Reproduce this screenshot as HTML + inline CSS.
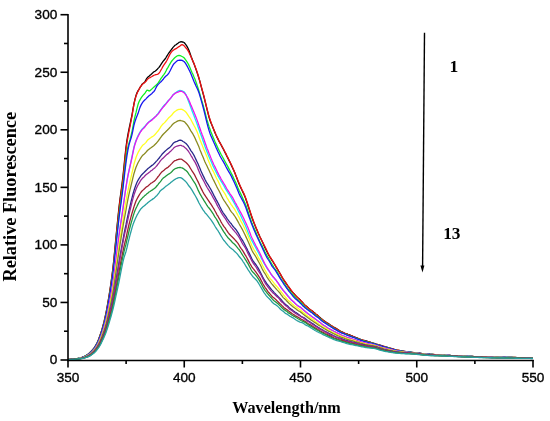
<!DOCTYPE html>
<html><head><meta charset="utf-8"><style>
html,body{margin:0;padding:0;background:#fff;width:550px;height:421px;overflow:hidden}
svg{display:block;will-change:transform}
</style></head><body>
<svg width="550" height="421" viewBox="0 0 550 421">
<rect width="550" height="421" fill="#fff"/>
<g fill="none" stroke-width="1.3" stroke-linejoin="round">
<path d="M68 359.40 L69 359.39 L70 359.34 L71 359.28 L72 359.20 L73 359.11 L74 359.00 L75 358.89 L76 358.77 L77 358.60 L78 358.40 L79 358.14 L80 357.88 L81 357.59 L82 357.27 L83 356.91 L84 356.49 L85 356.03 L86 355.50 L87 354.90 L88 354.19 L89 353.40 L90 352.52 L91 351.54 L92 350.48 L93 349.35 L94 348.05 L95 346.58 L96 344.90 L97 343.02 L98 340.88 L99 338.31 L100 335.53 L101 332.58 L102 329.40 L103 325.72 L104 321.95 L105 317.50 L106 312.85 L107 307.50 L108 301.90 L109 296.05 L110 289.68 L111 282.85 L112 275.48 L113 267.57 L114 258.32 L115 247.54 L116 237.11 L117 227.02 L118 217.07 L119 207.36 L120 199.05 L121 191.84 L122 184.09 L123 176.04 L124 166.25 L125 156.24 L126 147.43 L127 139.90 L128 134.05 L129 129.03 L130 124.50 L131 119.59 L132 114.81 L133 109.06 L134 103.53 L135 99.18 L136 95.58 L137 92.79 L138 90.83 L139 89.26 L140 87.48 L141 86.01 L142 84.37 L143 83.57 L144 82.65 L145 81.59 L146 79.69 L147 78.19 L148 76.96 L149 76.22 L150 75.31 L151 74.49 L152 73.58 L153 72.59 L154 71.74 L155 71.23 L156 70.42 L157 69.60 L158 68.44 L159 67.33 L160 65.99 L161 64.46 L162 62.87 L163 61.41 L164 60.24 L165 59.02 L166 57.52 L167 55.83 L168 54.27 L169 52.75 L170 51.49 L171 50.05 L172 48.76 L173 47.39 L174 46.34 L175 45.30 L176 44.68 L177 43.92 L178 43.30 L179 42.36 L180 42.01 L181 41.71 L182 41.99 L183 41.95 L184 42.48 L185 43.53 L186 44.90 L187 46.37 L188 48.22 L189 50.55 L190 53.22 L191 56.19 L192 58.85 L193 61.45 L194 63.82 L195 66.63 L196 69.35 L197 72.39 L198 75.26 L199 78.56 L200 81.88 L201 85.79 L202 89.56 L203 93.30 L204 96.99 L205 101.03 L206 105.12 L207 109.15 L208 113.06 L209 116.99 L210 120.27 L211 123.02 L212 125.32 L213 127.71 L214 130.18 L215 132.64 L216 134.97 L217 137.12 L218 139.15 L219 141.16 L220 142.91 L221 144.74 L222 146.61 L223 148.57 L224 150.49 L225 152.36 L226 154.34 L227 156.41 L228 158.39 L229 160.36 L230 162.35 L231 164.50 L232 166.79 L233 168.69 L234 171.03 L235 173.24 L236 175.96 L237 178.49 L238 181.15 L239 183.70 L240 185.99 L241 188.26 L242 190.27 L243 192.36 L244 194.47 L245 196.77 L246 199.55 L247 202.42 L248 205.74 L249 208.70 L250 211.76 L251 214.69 L252 217.75 L253 220.46 L254 223.05 L255 225.47 L256 228.10 L257 230.35 L258 232.74 L259 234.76 L260 236.93 L261 238.92 L262 241.01 L263 243.24 L264 245.50 L265 247.68 L266 249.73 L267 251.75 L268 253.67 L269 255.49 L270 257.10 L271 258.62 L272 260.31 L273 261.74 L274 263.52 L275 265.00 L276 266.87 L277 268.44 L278 270.07 L279 271.78 L280 273.53 L281 275.39 L282 277.10 L283 278.80 L284 280.40 L285 281.87 L286 283.39 L287 284.67 L288 286.16 L289 287.43 L290 289.08 L291 290.51 L292 291.68 L293 292.78 L294 293.78 L295 294.96 L296 296.03 L297 296.98 L298 297.88 L299 298.76 L300 299.78 L301 300.99 L302 301.93 L303 303.04 L304 304.13 L305 305.14 L306 305.98 L307 306.81 L308 307.72 L309 308.78 L310 309.58 L311 310.30 L312 310.79 L313 311.50 L314 312.57 L315 313.38 L316 314.18 L317 314.84 L318 315.72 L319 316.79 L320 317.58 L321 318.51 L322 319.17 L323 320.05 L324 320.65 L325 321.51 L326 322.16 L327 322.94 L328 323.41 L329 324.02 L330 324.69 L331 325.43 L332 326.12 L333 326.74 L334 327.29 L335 327.83 L336 328.40 L337 329.02 L338 329.65 L339 330.28 L340 330.93 L341 331.52 L342 331.96 L343 332.38 L344 332.89 L345 333.30 L346 333.63 L347 333.91 L348 334.37 L349 334.68 L350 335.10 L351 335.50 L352 335.94 L353 336.39 L354 336.76 L355 337.17 L356 337.53 L357 337.87 L358 338.29 L359 338.77 L360 339.19 L361 339.65 L362 339.90 L363 340.28 L364 340.49 L365 340.69 L366 340.92 L367 341.21 L368 341.55 L369 341.83 L370 342.14 L371 342.46 L372 342.75 L373 343.02 L374 343.37 L375 343.71 L376 344.06 L377 344.37 L378 344.69 L379 344.92 L380 345.13 L381 345.42 L382 345.77 L383 346.10 L384 346.40 L385 346.65 L386 346.95 L387 347.22 L388 347.52 L389 347.78 L390 348.06 L391 348.36 L392 348.66 L393 348.96 L394 349.27 L395 349.56 L396 349.89 L397 350.13 L398 350.34 L399 350.50 L400 350.68 L401 350.85 L402 351.03 L403 351.17 L404 351.29 L405 351.43 L406 351.58 L407 351.79 L408 351.90 L409 352.03 L410 352.15 L411 352.27 L412 352.42 L413 352.54 L414 352.67 L415 352.79 L416 352.88 L417 353.01 L418 353.11 L419 353.23 L420 353.33 L421 353.48 L422 353.56 L423 353.64 L424 353.72 L425 353.81 L426 353.92 L427 354.00 L428 354.10 L429 354.17 L430 354.25 L431 354.29 L432 354.36 L433 354.45 L434 354.55 L435 354.62 L436 354.66 L437 354.74 L438 354.81 L439 354.88 L440 354.94 L441 355.00 L442 355.08 L443 355.12 L444 355.19 L445 355.24 L446 355.30 L447 355.33 L448 355.38 L449 355.44 L450 355.50 L451 355.56 L452 355.61 L453 355.68 L454 355.72 L455 355.77 L456 355.79 L457 355.83 L458 355.89 L459 355.95 L460 356.00 L461 356.03 L462 356.07 L463 356.11 L464 356.16 L465 356.21 L466 356.25 L467 356.27 L468 356.31 L469 356.36 L470 356.41 L471 356.44 L472 356.48 L473 356.52 L474 356.56 L475 356.59 L476 356.62 L477 356.65 L478 356.67 L479 356.69 L480 356.72 L481 356.74 L482 356.79 L483 356.79 L484 356.82 L485 356.83 L486 356.87 L487 356.89 L488 356.91 L489 356.93 L490 356.95 L491 356.97 L492 356.99 L493 357.02 L494 357.04 L495 357.06 L496 357.07 L497 357.10 L498 357.11 L499 357.13 L500 357.14 L501 357.16 L502 357.19 L503 357.21 L504 357.25 L505 357.27 L506 357.29 L507 357.30 L508 357.33 L509 357.34 L510 357.37 L511 357.39 L512 357.42 L513 357.45 L514 357.46 L515 357.49 L516 357.52 L517 357.54 L518 357.57 L519 357.59 L520 357.61 L521 357.62 L522 357.65 L523 357.68 L524 357.71 L525 357.73 L526 357.75 L527 357.77 L528 357.79 L529 357.82 L530 357.84 L531 357.86 L532 357.88 L533 357.90" stroke="#000000"/>
<path d="M68 359.41 L69 359.39 L70 359.36 L71 359.29 L72 359.21 L73 359.11 L74 359.01 L75 358.91 L76 358.78 L77 358.60 L78 358.39 L79 358.16 L80 357.90 L81 357.62 L82 357.32 L83 356.95 L84 356.52 L85 356.04 L86 355.54 L87 354.94 L88 354.22 L89 353.42 L90 352.57 L91 351.64 L92 350.60 L93 349.47 L94 348.20 L95 346.77 L96 345.11 L97 343.27 L98 341.16 L99 338.55 L100 335.71 L101 332.72 L102 329.74 L103 326.27 L104 322.53 L105 318.19 L106 313.66 L107 308.44 L108 302.68 L109 296.63 L110 290.40 L111 283.77 L112 276.43 L113 268.45 L114 259.44 L115 248.77 L116 238.51 L117 228.43 L118 218.84 L119 209.18 L120 200.81 L121 193.49 L122 186.12 L123 178.24 L124 168.78 L125 158.62 L126 149.87 L127 142.37 L128 136.52 L129 131.39 L130 126.28 L131 121.21 L132 116.11 L133 109.97 L134 103.94 L135 99.70 L136 96.11 L137 93.43 L138 91.33 L139 89.47 L140 87.68 L141 86.01 L142 84.82 L143 83.68 L144 83.12 L145 82.21 L146 81.32 L147 79.86 L148 78.85 L149 78.03 L150 77.57 L151 77.04 L152 76.52 L153 75.83 L154 75.25 L155 74.96 L156 74.62 L157 74.38 L158 74.04 L159 73.17 L160 71.78 L161 69.96 L162 68.24 L163 66.41 L164 64.76 L165 63.34 L166 61.99 L167 60.29 L168 58.24 L169 56.10 L170 54.14 L171 52.55 L172 51.28 L173 50.47 L174 49.79 L175 49.12 L176 48.66 L177 47.92 L178 47.24 L179 46.59 L180 45.93 L181 45.10 L182 44.67 L183 44.96 L184 45.66 L185 46.81 L186 47.98 L187 49.06 L188 50.69 L189 52.45 L190 54.73 L191 56.82 L192 59.24 L193 61.35 L194 63.57 L195 66.19 L196 68.75 L197 71.61 L198 74.69 L199 78.21 L200 81.85 L201 85.47 L202 89.05 L203 92.54 L204 96.42 L205 100.63 L206 104.75 L207 108.98 L208 112.83 L209 116.51 L210 119.47 L211 122.33 L212 125.08 L213 127.53 L214 129.99 L215 132.34 L216 134.75 L217 136.85 L218 139.03 L219 141.12 L220 142.91 L221 144.55 L222 146.29 L223 148.25 L224 149.94 L225 151.99 L226 153.88 L227 156.07 L228 157.91 L229 160.02 L230 161.97 L231 163.95 L232 166.02 L233 168.38 L234 170.75 L235 173.26 L236 175.64 L237 178.15 L238 180.67 L239 183.02 L240 185.53 L241 187.55 L242 189.81 L243 191.71 L244 193.87 L245 196.26 L246 198.95 L247 201.88 L248 204.79 L249 207.99 L250 211.04 L251 214.11 L252 217.03 L253 219.81 L254 222.43 L255 224.93 L256 227.41 L257 229.81 L258 232.27 L259 234.63 L260 236.97 L261 238.98 L262 240.97 L263 242.82 L264 244.87 L265 246.76 L266 248.85 L267 250.92 L268 253.20 L269 255.21 L270 256.85 L271 258.45 L272 259.91 L273 261.66 L274 263.15 L275 264.87 L276 266.63 L277 268.37 L278 270.23 L279 271.77 L280 273.45 L281 275.14 L282 277.04 L283 278.67 L284 280.15 L285 281.40 L286 282.96 L287 284.51 L288 286.07 L289 287.40 L290 288.50 L291 289.86 L292 291.27 L293 292.70 L294 293.86 L295 294.77 L296 295.94 L297 296.92 L298 298.03 L299 298.92 L300 299.72 L301 300.77 L302 301.74 L303 303.05 L304 304.24 L305 305.33 L306 306.09 L307 306.86 L308 307.71 L309 308.74 L310 309.45 L311 310.05 L312 310.86 L313 311.78 L314 312.71 L315 313.28 L316 314.22 L317 314.81 L318 315.81 L319 316.74 L320 317.88 L321 318.79 L322 319.35 L323 320.25 L324 320.88 L325 321.72 L326 322.33 L327 323.04 L328 323.75 L329 324.29 L330 324.95 L331 325.49 L332 326.15 L333 326.80 L334 327.44 L335 328.03 L336 328.56 L337 329.09 L338 329.72 L339 330.43 L340 331.05 L341 331.65 L342 332.10 L343 332.52 L344 332.96 L345 333.31 L346 333.74 L347 334.15 L348 334.53 L349 334.93 L350 335.17 L351 335.59 L352 335.91 L353 336.36 L354 336.75 L355 337.23 L356 337.73 L357 338.19 L358 338.63 L359 338.96 L360 339.32 L361 339.62 L362 339.87 L363 340.19 L364 340.58 L365 340.94 L366 341.20 L367 341.49 L368 341.75 L369 342.04 L370 342.24 L371 342.52 L372 342.83 L373 343.23 L374 343.55 L375 343.82 L376 344.03 L377 344.33 L378 344.61 L379 344.93 L380 345.26 L381 345.61 L382 345.92 L383 346.15 L384 346.38 L385 346.69 L386 347.04 L387 347.34 L388 347.61 L389 347.88 L390 348.23 L391 348.53 L392 348.81 L393 349.08 L394 349.36 L395 349.63 L396 349.84 L397 350.01 L398 350.22 L399 350.43 L400 350.67 L401 350.87 L402 351.07 L403 351.22 L404 351.36 L405 351.52 L406 351.66 L407 351.81 L408 351.93 L409 352.08 L410 352.21 L411 352.31 L412 352.44 L413 352.52 L414 352.64 L415 352.73 L416 352.87 L417 352.98 L418 353.11 L419 353.20 L420 353.33 L421 353.46 L422 353.58 L423 353.69 L424 353.77 L425 353.89 L426 353.96 L427 354.02 L428 354.10 L429 354.18 L430 354.26 L431 354.31 L432 354.37 L433 354.46 L434 354.52 L435 354.63 L436 354.70 L437 354.76 L438 354.80 L439 354.85 L440 354.90 L441 354.98 L442 355.04 L443 355.11 L444 355.16 L445 355.22 L446 355.30 L447 355.37 L448 355.42 L449 355.47 L450 355.50 L451 355.55 L452 355.59 L453 355.65 L454 355.69 L455 355.74 L456 355.78 L457 355.85 L458 355.89 L459 355.93 L460 355.97 L461 356.03 L462 356.08 L463 356.12 L464 356.16 L465 356.22 L466 356.26 L467 356.29 L468 356.31 L469 356.34 L470 356.40 L471 356.45 L472 356.49 L473 356.52 L474 356.54 L475 356.57 L476 356.60 L477 356.65 L478 356.66 L479 356.69 L480 356.71 L481 356.75 L482 356.77 L483 356.79 L484 356.81 L485 356.84 L486 356.87 L487 356.89 L488 356.90 L489 356.92 L490 356.95 L491 356.97 L492 356.99 L493 357.01 L494 357.04 L495 357.07 L496 357.09 L497 357.11 L498 357.14 L499 357.16 L500 357.18 L501 357.20 L502 357.23 L503 357.24 L504 357.27 L505 357.27 L506 357.29 L507 357.31 L508 357.34 L509 357.37 L510 357.39 L511 357.42 L512 357.44 L513 357.46 L514 357.48 L515 357.51 L516 357.53 L517 357.56 L518 357.58 L519 357.61 L520 357.63 L521 357.64 L522 357.66 L523 357.68 L524 357.69 L525 357.71 L526 357.73 L527 357.78 L528 357.80 L529 357.82 L530 357.83 L531 357.86 L532 357.88 L533 357.91" stroke="#f01010"/>
<path d="M68 359.41 L69 359.40 L70 359.36 L71 359.30 L72 359.23 L73 359.14 L74 359.04 L75 358.94 L76 358.81 L77 358.65 L78 358.44 L79 358.22 L80 357.97 L81 357.71 L82 357.41 L83 357.06 L84 356.65 L85 356.19 L86 355.69 L87 355.13 L88 354.45 L89 353.68 L90 352.83 L91 351.89 L92 350.83 L93 349.72 L94 348.48 L95 347.10 L96 345.43 L97 343.66 L98 341.66 L99 339.25 L100 336.50 L101 333.50 L102 330.55 L103 327.25 L104 323.59 L105 319.45 L106 314.90 L107 310.02 L108 304.44 L109 298.63 L110 292.59 L111 286.22 L112 279.28 L113 271.55 L114 262.92 L115 252.82 L116 243.12 L117 233.43 L118 224.25 L119 215.24 L120 207.25 L121 200.14 L122 192.54 L123 184.79 L124 175.71 L125 166.52 L126 158.43 L127 151.01 L128 146.56 L129 143.09 L130 139.71 L131 135.60 L132 131.56 L133 126.34 L134 120.58 L135 116.34 L136 112.67 L137 108.35 L138 104.55 L139 101.81 L140 99.89 L141 98.14 L142 96.70 L143 95.35 L144 94.28 L145 93.07 L146 91.51 L147 90.12 L148 90.30 L149 91.04 L150 90.72 L151 89.80 L152 88.86 L153 87.88 L154 86.92 L155 86.12 L156 85.23 L157 84.32 L158 83.08 L159 81.57 L160 80.04 L161 78.44 L162 77.07 L163 75.65 L164 74.32 L165 72.85 L166 70.94 L167 68.87 L168 67.31 L169 65.53 L170 63.85 L171 62.15 L172 60.75 L173 59.61 L174 58.54 L175 57.55 L176 56.72 L177 56.04 L178 55.55 L179 55.35 L180 55.66 L181 55.99 L182 56.48 L183 56.98 L184 57.72 L185 59.00 L186 60.47 L187 61.95 L188 63.49 L189 65.41 L190 67.77 L191 70.13 L192 72.41 L193 74.54 L194 77.01 L195 79.31 L196 82.05 L197 84.93 L198 88.03 L199 91.25 L200 94.49 L201 98.08 L202 101.44 L203 104.77 L204 108.32 L205 112.23 L206 116.26 L207 119.98 L208 123.27 L209 126.38 L210 129.21 L211 132.08 L212 134.49 L213 136.98 L214 139.33 L215 141.68 L216 143.86 L217 146.09 L218 148.29 L219 150.39 L220 152.30 L221 154.22 L222 156.00 L223 157.71 L224 159.66 L225 161.47 L226 163.30 L227 165.09 L228 166.91 L229 168.86 L230 170.75 L231 172.73 L232 174.64 L233 176.65 L234 178.87 L235 180.96 L236 183.07 L237 185.49 L238 188.05 L239 190.29 L240 192.27 L241 194.36 L242 196.53 L243 198.78 L244 200.92 L245 203.33 L246 205.62 L247 208.38 L248 211.42 L249 214.46 L250 217.55 L251 220.40 L252 223.35 L253 225.79 L254 227.98 L255 230.15 L256 232.49 L257 234.93 L258 237.35 L259 239.56 L260 241.72 L261 243.70 L262 245.63 L263 247.69 L264 249.86 L265 251.99 L266 253.77 L267 255.56 L268 257.25 L269 259.21 L270 260.88 L271 262.67 L272 264.26 L273 265.89 L274 267.52 L275 268.85 L276 270.11 L277 271.62 L278 273.49 L279 275.54 L280 277.18 L281 278.80 L282 280.32 L283 281.73 L284 283.13 L285 284.64 L286 286.15 L287 287.79 L288 288.93 L289 290.24 L290 291.42 L291 292.73 L292 293.84 L293 294.72 L294 295.80 L295 297.10 L296 298.26 L297 299.33 L298 300.04 L299 301.00 L300 301.90 L301 302.82 L302 303.66 L303 304.65 L304 305.84 L305 306.84 L306 307.80 L307 308.77 L308 309.54 L309 310.17 L310 310.84 L311 311.71 L312 312.56 L313 313.23 L314 313.90 L315 314.71 L316 315.43 L317 316.33 L318 317.02 L319 317.83 L320 318.63 L321 319.52 L322 320.45 L323 321.20 L324 321.92 L325 322.60 L326 323.26 L327 323.86 L328 324.43 L329 325.05 L330 325.75 L331 326.43 L332 327.12 L333 327.75 L334 328.42 L335 329.01 L336 329.54 L337 330.12 L338 330.72 L339 331.30 L340 331.79 L341 332.33 L342 332.85 L343 333.33 L344 333.71 L345 334.12 L346 334.43 L347 334.81 L348 335.13 L349 335.57 L350 335.85 L351 336.26 L352 336.66 L353 337.14 L354 337.49 L355 337.84 L356 338.18 L357 338.54 L358 338.91 L359 339.33 L360 339.77 L361 340.09 L362 340.45 L363 340.65 L364 340.94 L365 341.18 L366 341.56 L367 341.84 L368 342.04 L369 342.30 L370 342.60 L371 342.91 L372 343.14 L373 343.40 L374 343.72 L375 344.07 L376 344.34 L377 344.71 L378 344.99 L379 345.32 L380 345.58 L381 345.88 L382 346.25 L383 346.56 L384 346.83 L385 347.03 L386 347.28 L387 347.57 L388 347.88 L389 348.17 L390 348.51 L391 348.77 L392 349.07 L393 349.33 L394 349.55 L395 349.79 L396 350.02 L397 350.29 L398 350.51 L399 350.70 L400 350.86 L401 351.02 L402 351.14 L403 351.27 L404 351.44 L405 351.58 L406 351.73 L407 351.86 L408 352.02 L409 352.14 L410 352.22 L411 352.32 L412 352.43 L413 352.56 L414 352.68 L415 352.81 L416 352.93 L417 353.05 L418 353.19 L419 353.31 L420 353.39 L421 353.48 L422 353.56 L423 353.66 L424 353.76 L425 353.87 L426 353.97 L427 354.06 L428 354.15 L429 354.22 L430 354.29 L431 354.38 L432 354.47 L433 354.52 L434 354.57 L435 354.63 L436 354.73 L437 354.81 L438 354.88 L439 354.93 L440 354.98 L441 355.03 L442 355.08 L443 355.13 L444 355.18 L445 355.23 L446 355.28 L447 355.35 L448 355.40 L449 355.47 L450 355.51 L451 355.56 L452 355.61 L453 355.68 L454 355.72 L455 355.76 L456 355.82 L457 355.87 L458 355.92 L459 355.98 L460 356.03 L461 356.07 L462 356.09 L463 356.13 L464 356.18 L465 356.23 L466 356.27 L467 356.29 L468 356.34 L469 356.39 L470 356.43 L471 356.47 L472 356.50 L473 356.54 L474 356.57 L475 356.61 L476 356.64 L477 356.67 L478 356.69 L479 356.72 L480 356.75 L481 356.77 L482 356.81 L483 356.84 L484 356.86 L485 356.88 L486 356.90 L487 356.92 L488 356.94 L489 356.97 L490 356.99 L491 357.01 L492 357.01 L493 357.05 L494 357.07 L495 357.10 L496 357.11 L497 357.14 L498 357.16 L499 357.19 L500 357.21 L501 357.23 L502 357.25 L503 357.27 L504 357.29 L505 357.32 L506 357.34 L507 357.36 L508 357.38 L509 357.41 L510 357.43 L511 357.45 L512 357.47 L513 357.49 L514 357.53 L515 357.55 L516 357.58 L517 357.60 L518 357.61 L519 357.63 L520 357.65 L521 357.68 L522 357.70 L523 357.73 L524 357.75 L525 357.77 L526 357.80 L527 357.82 L528 357.84 L529 357.86 L530 357.88 L531 357.90 L532 357.91 L533 357.93" stroke="#10f020"/>
<path d="M68 359.42 L69 359.41 L70 359.37 L71 359.31 L72 359.24 L73 359.15 L74 359.04 L75 358.94 L76 358.81 L77 358.65 L78 358.46 L79 358.24 L80 358.01 L81 357.75 L82 357.46 L83 357.10 L84 356.70 L85 356.27 L86 355.78 L87 355.22 L88 354.54 L89 353.79 L90 352.97 L91 352.06 L92 351.03 L93 349.88 L94 348.61 L95 347.23 L96 345.68 L97 343.94 L98 341.89 L99 339.43 L100 336.74 L101 333.93 L102 330.86 L103 327.58 L104 323.96 L105 320.18 L106 315.60 L107 310.51 L108 305.03 L109 299.36 L110 293.58 L111 287.13 L112 280.37 L113 272.73 L114 264.25 L115 254.63 L116 245.38 L117 236.25 L118 227.05 L119 218.18 L120 210.22 L121 203.30 L122 195.74 L123 188.17 L124 179.22 L125 170.38 L126 162.44 L127 155.31 L128 149.63 L129 144.87 L130 141.40 L131 138.33 L132 134.61 L133 129.96 L134 124.98 L135 121.43 L136 118.46 L137 116.02 L138 113.62 L139 110.38 L140 107.37 L141 105.13 L142 103.37 L143 101.84 L144 100.79 L145 99.79 L146 98.85 L147 97.66 L148 96.70 L149 95.76 L150 95.13 L151 94.27 L152 93.44 L153 92.28 L154 91.43 L155 89.83 L156 87.80 L157 85.86 L158 84.52 L159 83.62 L160 82.58 L161 81.80 L162 80.63 L163 79.53 L164 78.11 L165 76.99 L166 75.96 L167 75.16 L168 74.23 L169 72.81 L170 70.99 L171 69.05 L172 67.03 L173 65.18 L174 63.73 L175 62.85 L176 61.85 L177 60.94 L178 60.30 L179 60.24 L180 60.11 L181 60.25 L182 60.40 L183 60.93 L184 61.47 L185 62.69 L186 64.11 L187 65.82 L188 67.69 L189 69.72 L190 71.74 L191 74.09 L192 76.54 L193 78.99 L194 81.47 L195 83.62 L196 85.95 L197 87.94 L198 90.18 L199 92.85 L200 96.11 L201 99.55 L202 103.17 L203 106.73 L204 110.56 L205 114.65 L206 118.87 L207 123.16 L208 126.88 L209 130.34 L210 133.42 L211 135.96 L212 138.26 L213 140.52 L214 142.82 L215 144.98 L216 147.36 L217 149.40 L218 151.66 L219 153.77 L220 155.96 L221 157.78 L222 159.52 L223 161.07 L224 162.89 L225 164.69 L226 166.76 L227 168.58 L228 170.39 L229 172.06 L230 173.80 L231 175.57 L232 177.60 L233 179.68 L234 181.83 L235 183.96 L236 186.16 L237 188.54 L238 190.91 L239 193.41 L240 195.62 L241 197.52 L242 199.34 L243 201.17 L244 203.24 L245 205.46 L246 208.05 L247 210.94 L248 213.78 L249 216.70 L250 219.38 L251 222.30 L252 224.86 L253 227.33 L254 229.72 L255 232.08 L256 234.40 L257 236.53 L258 238.60 L259 240.79 L260 242.94 L261 245.19 L262 247.23 L263 249.45 L264 251.55 L265 253.78 L266 255.79 L267 257.63 L268 259.25 L269 260.73 L270 262.41 L271 264.25 L272 266.14 L273 267.38 L274 268.62 L275 269.86 L276 271.47 L277 273.07 L278 274.69 L279 276.40 L280 278.05 L281 279.56 L282 281.13 L283 282.58 L284 284.31 L285 285.68 L286 287.16 L287 288.50 L288 289.97 L289 291.34 L290 292.43 L291 293.67 L292 294.83 L293 296.23 L294 297.33 L295 298.40 L296 299.14 L297 300.00 L298 300.92 L299 301.88 L300 302.92 L301 303.77 L302 304.88 L303 305.94 L304 306.74 L305 307.66 L306 308.38 L307 309.39 L308 310.03 L309 310.86 L310 311.47 L311 312.17 L312 312.77 L313 313.64 L314 314.53 L315 315.42 L316 316.19 L317 316.85 L318 317.46 L319 318.30 L320 319.20 L321 320.19 L322 321.06 L323 321.79 L324 322.47 L325 322.90 L326 323.64 L327 324.32 L328 325.09 L329 325.71 L330 326.26 L331 326.86 L332 327.54 L333 328.22 L334 328.87 L335 329.35 L336 329.90 L337 330.44 L338 331.12 L339 331.66 L340 332.25 L341 332.64 L342 333.10 L343 333.37 L344 333.70 L345 334.19 L346 334.77 L347 335.22 L348 335.52 L349 335.85 L350 336.20 L351 336.65 L352 336.94 L353 337.32 L354 337.48 L355 337.97 L356 338.39 L357 338.97 L358 339.26 L359 339.65 L360 339.95 L361 340.34 L362 340.71 L363 341.09 L364 341.41 L365 341.59 L366 341.81 L367 342.08 L368 342.39 L369 342.65 L370 342.88 L371 343.10 L372 343.36 L373 343.67 L374 343.94 L375 344.22 L376 344.49 L377 344.78 L378 345.08 L379 345.31 L380 345.64 L381 345.91 L382 346.24 L383 346.53 L384 346.85 L385 347.15 L386 347.38 L387 347.71 L388 348.00 L389 348.31 L390 348.55 L391 348.84 L392 349.12 L393 349.40 L394 349.64 L395 349.92 L396 350.15 L397 350.39 L398 350.59 L399 350.78 L400 350.96 L401 351.11 L402 351.25 L403 351.37 L404 351.51 L405 351.66 L406 351.79 L407 351.95 L408 352.07 L409 352.19 L410 352.26 L411 352.39 L412 352.49 L413 352.60 L414 352.67 L415 352.79 L416 352.93 L417 353.04 L418 353.14 L419 353.25 L420 353.40 L421 353.50 L422 353.59 L423 353.70 L424 353.81 L425 353.91 L426 353.98 L427 354.06 L428 354.15 L429 354.24 L430 354.31 L431 354.39 L432 354.47 L433 354.55 L434 354.63 L435 354.68 L436 354.75 L437 354.79 L438 354.88 L439 354.92 L440 354.97 L441 355.00 L442 355.06 L443 355.12 L444 355.17 L445 355.23 L446 355.29 L447 355.36 L448 355.41 L449 355.47 L450 355.51 L451 355.55 L452 355.58 L453 355.65 L454 355.70 L455 355.74 L456 355.80 L457 355.88 L458 355.95 L459 355.97 L460 356.01 L461 356.05 L462 356.11 L463 356.14 L464 356.18 L465 356.21 L466 356.25 L467 356.32 L468 356.37 L469 356.41 L470 356.42 L471 356.46 L472 356.50 L473 356.55 L474 356.58 L475 356.62 L476 356.65 L477 356.67 L478 356.69 L479 356.71 L480 356.74 L481 356.78 L482 356.81 L483 356.84 L484 356.87 L485 356.89 L486 356.92 L487 356.96 L488 356.99 L489 357.00 L490 357.02 L491 357.04 L492 357.07 L493 357.08 L494 357.09 L495 357.11 L496 357.13 L497 357.17 L498 357.19 L499 357.21 L500 357.22 L501 357.25 L502 357.27 L503 357.29 L504 357.30 L505 357.33 L506 357.35 L507 357.39 L508 357.42 L509 357.44 L510 357.46 L511 357.48 L512 357.51 L513 357.54 L514 357.55 L515 357.56 L516 357.58 L517 357.60 L518 357.63 L519 357.66 L520 357.67 L521 357.70 L522 357.71 L523 357.74 L524 357.77 L525 357.79 L526 357.80 L527 357.82 L528 357.85 L529 357.87 L530 357.89 L531 357.91 L532 357.93 L533 357.95" stroke="#1818f0"/>
<path d="M68 359.46 L69 359.45 L70 359.42 L71 359.37 L72 359.30 L73 359.21 L74 359.12 L75 359.02 L76 358.91 L77 358.77 L78 358.60 L79 358.41 L80 358.20 L81 357.99 L82 357.72 L83 357.42 L84 357.04 L85 356.65 L86 356.19 L87 355.70 L88 355.13 L89 354.52 L90 353.75 L91 352.89 L92 351.92 L93 350.90 L94 349.78 L95 348.44 L96 346.98 L97 345.34 L98 343.55 L99 341.33 L100 338.93 L101 336.30 L102 333.55 L103 330.51 L104 327.38 L105 323.75 L106 319.81 L107 315.45 L108 310.74 L109 305.78 L110 300.49 L111 295.09 L112 289.10 L113 282.68 L114 275.45 L115 267.30 L116 259.12 L117 250.91 L118 243.03 L119 235.15 L120 227.85 L121 221.13 L122 214.49 L123 207.97 L124 200.51 L125 193.48 L126 186.82 L127 180.65 L128 175.16 L129 170.50 L130 165.96 L131 161.30 L132 156.58 L133 151.69 L134 146.95 L135 143.45 L136 140.43 L137 138.02 L138 135.88 L139 133.79 L140 132.07 L141 130.54 L142 129.14 L143 128.11 L144 127.08 L145 126.23 L146 124.90 L147 123.79 L148 122.71 L149 121.83 L150 120.88 L151 120.05 L152 119.39 L153 118.68 L154 117.84 L155 116.88 L156 116.01 L157 114.78 L158 113.63 L159 112.04 L160 110.91 L161 109.41 L162 108.18 L163 106.69 L164 105.53 L165 104.42 L166 103.48 L167 102.14 L168 100.82 L169 99.87 L170 98.95 L171 97.84 L172 96.31 L173 94.80 L174 93.92 L175 93.02 L176 92.44 L177 91.72 L178 91.06 L179 90.72 L180 90.50 L181 90.60 L182 90.91 L183 91.30 L184 91.77 L185 92.94 L186 94.77 L187 97.25 L188 99.90 L189 102.50 L190 105.16 L191 107.97 L192 110.68 L193 113.31 L194 115.78 L195 118.55 L196 121.12 L197 123.83 L198 126.80 L199 129.57 L200 132.44 L201 135.04 L202 137.78 L203 140.71 L204 143.45 L205 146.42 L206 149.18 L207 151.79 L208 154.35 L209 156.75 L210 159.09 L211 161.28 L212 163.51 L213 165.95 L214 167.91 L215 170.01 L216 171.86 L217 174.01 L218 175.83 L219 177.69 L220 179.46 L221 181.11 L222 182.63 L223 184.29 L224 186.04 L225 187.90 L226 189.55 L227 191.13 L228 192.76 L229 194.20 L230 195.77 L231 197.33 L232 199.06 L233 200.83 L234 202.63 L235 204.43 L236 206.35 L237 208.32 L238 210.43 L239 212.35 L240 214.30 L241 216.29 L242 218.50 L243 220.45 L244 222.50 L245 224.62 L246 227.11 L247 229.61 L248 232.15 L249 234.67 L250 237.02 L251 239.04 L252 240.92 L253 242.77 L254 244.67 L255 246.45 L256 248.28 L257 250.16 L258 251.93 L259 253.74 L260 255.57 L261 257.65 L262 259.55 L263 261.51 L264 263.30 L265 265.00 L266 266.72 L267 268.17 L268 269.79 L269 271.01 L270 272.58 L271 274.00 L272 275.28 L273 276.51 L274 277.64 L275 278.80 L276 280.18 L277 281.52 L278 282.96 L279 284.22 L280 285.64 L281 287.14 L282 288.58 L283 290.07 L284 291.09 L285 292.17 L286 293.23 L287 294.47 L288 295.82 L289 296.88 L290 298.19 L291 299.28 L292 300.49 L293 301.50 L294 302.52 L295 303.34 L296 304.22 L297 304.96 L298 305.64 L299 306.20 L300 306.82 L301 307.73 L302 308.44 L303 309.42 L304 310.14 L305 311.29 L306 312.13 L307 312.95 L308 313.67 L309 314.22 L310 315.06 L311 315.83 L312 316.60 L313 317.38 L314 318.05 L315 318.94 L316 319.49 L317 320.28 L318 321.06 L319 321.92 L320 322.55 L321 323.30 L322 324.11 L323 324.90 L324 325.59 L325 326.12 L326 326.75 L327 327.34 L328 328.00 L329 328.77 L330 329.34 L331 329.86 L332 330.28 L333 330.72 L334 331.30 L335 331.81 L336 332.35 L337 332.83 L338 333.25 L339 333.78 L340 334.25 L341 334.85 L342 335.30 L343 335.74 L344 335.98 L345 336.43 L346 336.87 L347 337.31 L348 337.58 L349 337.87 L350 338.16 L351 338.55 L352 338.87 L353 339.15 L354 339.36 L355 339.58 L356 340.00 L357 340.40 L358 340.91 L359 341.29 L360 341.55 L361 341.80 L362 342.04 L363 342.37 L364 342.60 L365 342.85 L366 343.09 L367 343.39 L368 343.60 L369 343.80 L370 343.95 L371 344.16 L372 344.36 L373 344.59 L374 344.86 L375 345.16 L376 345.49 L377 345.81 L378 346.12 L379 346.37 L380 346.67 L381 347.00 L382 347.31 L383 347.56 L384 347.79 L385 348.05 L386 348.33 L387 348.60 L388 348.89 L389 349.13 L390 349.41 L391 349.64 L392 349.89 L393 350.16 L394 350.39 L395 350.64 L396 350.82 L397 351.02 L398 351.19 L399 351.34 L400 351.44 L401 351.57 L402 351.71 L403 351.86 L404 351.95 L405 352.05 L406 352.15 L407 352.22 L408 352.31 L409 352.41 L410 352.51 L411 352.59 L412 352.70 L413 352.81 L414 352.92 L415 352.99 L416 353.06 L417 353.16 L418 353.28 L419 353.45 L420 353.56 L421 353.67 L422 353.80 L423 353.94 L424 354.07 L425 354.16 L426 354.24 L427 354.33 L428 354.40 L429 354.48 L430 354.54 L431 354.61 L432 354.64 L433 354.71 L434 354.78 L435 354.85 L436 354.91 L437 354.92 L438 354.98 L439 355.01 L440 355.07 L441 355.13 L442 355.20 L443 355.26 L444 355.32 L445 355.35 L446 355.41 L447 355.45 L448 355.52 L449 355.55 L450 355.60 L451 355.65 L452 355.71 L453 355.77 L454 355.80 L455 355.85 L456 355.90 L457 355.96 L458 356.01 L459 356.05 L460 356.10 L461 356.15 L462 356.20 L463 356.25 L464 356.30 L465 356.32 L466 356.36 L467 356.39 L468 356.45 L469 356.50 L470 356.55 L471 356.59 L472 356.64 L473 356.66 L474 356.70 L475 356.73 L476 356.78 L477 356.80 L478 356.83 L479 356.87 L480 356.90 L481 356.93 L482 356.96 L483 356.99 L484 357.00 L485 357.03 L486 357.04 L487 357.08 L488 357.10 L489 357.11 L490 357.14 L491 357.16 L492 357.19 L493 357.21 L494 357.25 L495 357.28 L496 357.29 L497 357.31 L498 357.32 L499 357.34 L500 357.37 L501 357.39 L502 357.42 L503 357.43 L504 357.46 L505 357.48 L506 357.50 L507 357.52 L508 357.55 L509 357.57 L510 357.58 L511 357.60 L512 357.63 L513 357.66 L514 357.69 L515 357.71 L516 357.73 L517 357.74 L518 357.76 L519 357.78 L520 357.81 L521 357.84 L522 357.85 L523 357.87 L524 357.89 L525 357.91 L526 357.93 L527 357.95 L528 357.97 L529 357.99 L530 358.00 L531 358.02 L532 358.04 L533 358.06" stroke="#10f0f0"/>
<path d="M68 359.46 L69 359.45 L70 359.42 L71 359.36 L72 359.29 L73 359.21 L74 359.12 L75 359.02 L76 358.91 L77 358.76 L78 358.60 L79 358.42 L80 358.22 L81 357.99 L82 357.73 L83 357.42 L84 357.08 L85 356.69 L86 356.25 L87 355.72 L88 355.14 L89 354.47 L90 353.71 L91 352.89 L92 351.95 L93 350.91 L94 349.76 L95 348.55 L96 347.07 L97 345.43 L98 343.51 L99 341.46 L100 339.04 L101 336.47 L102 333.65 L103 330.68 L104 327.41 L105 323.93 L106 319.95 L107 315.79 L108 310.80 L109 305.66 L110 300.29 L111 294.87 L112 289.22 L113 283.03 L114 275.74 L115 267.42 L116 259.09 L117 251.22 L118 243.45 L119 235.53 L120 228.42 L121 221.88 L122 215.70 L123 208.71 L124 201.25 L125 193.75 L126 187.24 L127 180.83 L128 175.34 L129 170.77 L130 166.30 L131 162.05 L132 157.49 L133 152.52 L134 147.78 L135 144.19 L136 141.27 L137 138.79 L138 136.56 L139 134.69 L140 132.75 L141 131.26 L142 129.90 L143 128.89 L144 127.96 L145 126.73 L146 125.42 L147 124.10 L148 122.98 L149 122.03 L150 121.42 L151 120.77 L152 119.98 L153 118.81 L154 118.10 L155 117.05 L156 116.19 L157 115.06 L158 114.10 L159 112.84 L160 111.24 L161 109.90 L162 108.54 L163 107.40 L164 106.21 L165 105.01 L166 103.91 L167 102.66 L168 101.40 L169 100.09 L170 98.94 L171 97.70 L172 96.34 L173 95.09 L174 94.22 L175 93.49 L176 92.88 L177 92.47 L178 92.07 L179 91.70 L180 91.20 L181 91.23 L182 91.42 L183 92.07 L184 92.63 L185 93.85 L186 94.97 L187 96.71 L188 98.37 L189 100.51 L190 102.75 L191 105.36 L192 107.58 L193 109.90 L194 112.25 L195 114.86 L196 117.29 L197 119.89 L198 122.62 L199 125.59 L200 128.47 L201 131.44 L202 134.20 L203 136.77 L204 139.49 L205 142.49 L206 145.34 L207 148.14 L208 150.56 L209 153.18 L210 155.61 L211 158.12 L212 160.57 L213 162.83 L214 165.01 L215 166.89 L216 168.98 L217 170.98 L218 173.16 L219 175.05 L220 176.83 L221 178.79 L222 180.47 L223 182.13 L224 183.73 L225 185.45 L226 187.25 L227 189.01 L228 190.63 L229 192.18 L230 193.76 L231 195.14 L232 196.71 L233 198.21 L234 200.21 L235 202.22 L236 203.93 L237 205.79 L238 207.53 L239 209.51 L240 211.31 L241 213.06 L242 214.99 L243 217.03 L244 219.05 L245 221.16 L246 223.21 L247 225.54 L248 227.67 L249 230.37 L250 233.09 L251 235.81 L252 238.01 L253 239.96 L254 242.01 L255 243.93 L256 245.97 L257 247.85 L258 249.69 L259 251.51 L260 253.57 L261 255.59 L262 257.89 L263 260.06 L264 262.13 L265 264.04 L266 265.74 L267 267.64 L268 269.16 L269 270.75 L270 272.28 L271 274.01 L272 275.48 L273 276.83 L274 277.80 L275 279.01 L276 280.15 L277 281.57 L278 282.94 L279 284.54 L280 286.07 L281 287.52 L282 288.83 L283 290.24 L284 291.41 L285 292.67 L286 293.88 L287 295.12 L288 296.33 L289 297.38 L290 298.67 L291 299.74 L292 300.49 L293 301.26 L294 302.11 L295 303.26 L296 304.15 L297 305.13 L298 305.95 L299 306.58 L300 307.11 L301 307.60 L302 308.71 L303 309.59 L304 310.62 L305 311.14 L306 311.94 L307 312.82 L308 313.72 L309 314.49 L310 315.14 L311 316.08 L312 316.79 L313 317.44 L314 317.96 L315 318.70 L316 319.54 L317 320.30 L318 320.99 L319 321.73 L320 322.53 L321 323.24 L322 324.12 L323 324.90 L324 325.54 L325 326.04 L326 326.64 L327 327.49 L328 328.24 L329 328.65 L330 329.07 L331 329.49 L332 330.18 L333 330.72 L334 331.29 L335 331.80 L336 332.41 L337 332.83 L338 333.33 L339 333.79 L340 334.32 L341 334.84 L342 335.25 L343 335.76 L344 336.06 L345 336.54 L346 336.91 L347 337.26 L348 337.55 L349 337.83 L350 338.16 L351 338.50 L352 338.83 L353 339.15 L354 339.44 L355 339.78 L356 340.15 L357 340.46 L358 340.82 L359 341.12 L360 341.48 L361 341.76 L362 342.11 L363 342.30 L364 342.52 L365 342.74 L366 343.05 L367 343.32 L368 343.58 L369 343.81 L370 344.02 L371 344.25 L372 344.50 L373 344.66 L374 344.93 L375 345.14 L376 345.50 L377 345.69 L378 346.01 L379 346.27 L380 346.66 L381 347.02 L382 347.36 L383 347.62 L384 347.89 L385 348.12 L386 348.37 L387 348.61 L388 348.91 L389 349.18 L390 349.43 L391 349.67 L392 349.93 L393 350.22 L394 350.43 L395 350.64 L396 350.86 L397 351.05 L398 351.20 L399 351.33 L400 351.46 L401 351.60 L402 351.70 L403 351.81 L404 351.93 L405 352.04 L406 352.13 L407 352.21 L408 352.31 L409 352.42 L410 352.53 L411 352.65 L412 352.72 L413 352.80 L414 352.85 L415 352.97 L416 353.09 L417 353.22 L418 353.32 L419 353.42 L420 353.53 L421 353.67 L422 353.82 L423 353.94 L424 354.06 L425 354.14 L426 354.23 L427 354.31 L428 354.39 L429 354.49 L430 354.54 L431 354.62 L432 354.67 L433 354.74 L434 354.78 L435 354.83 L436 354.86 L437 354.89 L438 354.94 L439 355.02 L440 355.06 L441 355.11 L442 355.17 L443 355.22 L444 355.28 L445 355.32 L446 355.40 L447 355.43 L448 355.48 L449 355.52 L450 355.59 L451 355.64 L452 355.70 L453 355.74 L454 355.80 L455 355.83 L456 355.89 L457 355.95 L458 356.01 L459 356.07 L460 356.12 L461 356.17 L462 356.21 L463 356.27 L464 356.31 L465 356.35 L466 356.38 L467 356.43 L468 356.48 L469 356.53 L470 356.57 L471 356.60 L472 356.63 L473 356.67 L474 356.69 L475 356.74 L476 356.76 L477 356.81 L478 356.83 L479 356.86 L480 356.89 L481 356.91 L482 356.95 L483 356.99 L484 357.03 L485 357.04 L486 357.06 L487 357.08 L488 357.12 L489 357.14 L490 357.15 L491 357.16 L492 357.19 L493 357.21 L494 357.24 L495 357.26 L496 357.31 L497 357.33 L498 357.35 L499 357.36 L500 357.38 L501 357.41 L502 357.43 L503 357.45 L504 357.45 L505 357.47 L506 357.50 L507 357.54 L508 357.55 L509 357.58 L510 357.59 L511 357.61 L512 357.64 L513 357.67 L514 357.69 L515 357.71 L516 357.73 L517 357.75 L518 357.76 L519 357.79 L520 357.82 L521 357.84 L522 357.86 L523 357.88 L524 357.89 L525 357.90 L526 357.93 L527 357.95 L528 357.97 L529 357.99 L530 358.00 L531 358.03 L532 358.04 L533 358.06" stroke="#f010f0"/>
<path d="M68 359.49 L69 359.48 L70 359.45 L71 359.40 L72 359.33 L73 359.26 L74 359.17 L75 359.08 L76 358.97 L77 358.84 L78 358.68 L79 358.51 L80 358.32 L81 358.14 L82 357.89 L83 357.61 L84 357.27 L85 356.90 L86 356.48 L87 356.02 L88 355.49 L89 354.87 L90 354.16 L91 353.36 L92 352.46 L93 351.49 L94 350.43 L95 349.25 L96 347.84 L97 346.32 L98 344.53 L99 342.51 L100 340.24 L101 337.81 L102 335.25 L103 332.44 L104 329.46 L105 326.10 L106 322.47 L107 318.51 L108 314.09 L109 309.24 L110 304.41 L111 299.30 L112 293.95 L113 287.98 L114 281.55 L115 274.36 L116 267.19 L117 259.98 L118 252.65 L119 245.41 L120 238.60 L121 232.43 L122 226.36 L123 220.17 L124 213.47 L125 206.81 L126 201.15 L127 195.47 L128 190.65 L129 186.00 L130 181.49 L131 177.31 L132 172.94 L133 168.55 L134 164.12 L135 160.70 L136 157.55 L137 154.95 L138 152.65 L139 150.84 L140 149.14 L141 147.58 L142 146.11 L143 144.94 L144 144.29 L145 143.36 L146 142.35 L147 140.87 L148 139.72 L149 138.93 L150 138.21 L151 137.55 L152 136.84 L153 136.26 L154 135.48 L155 134.46 L156 133.30 L157 132.10 L158 131.05 L159 129.56 L160 128.17 L161 126.40 L162 125.13 L163 124.00 L164 123.12 L165 122.18 L166 121.00 L167 119.79 L168 118.61 L169 117.53 L170 116.67 L171 115.79 L172 114.74 L173 113.47 L174 112.24 L175 111.43 L176 110.82 L177 110.13 L178 109.72 L179 109.38 L180 109.39 L181 109.19 L182 109.36 L183 109.91 L184 110.45 L185 111.26 L186 112.14 L187 113.56 L188 115.03 L189 116.56 L190 118.01 L191 119.78 L192 121.70 L193 123.58 L194 125.47 L195 127.26 L196 129.41 L197 131.58 L198 134.13 L199 137.01 L200 139.80 L201 142.29 L202 144.63 L203 147.14 L204 149.69 L205 152.04 L206 154.51 L207 156.86 L208 159.53 L209 161.90 L210 164.38 L211 166.70 L212 168.92 L213 170.89 L214 172.82 L215 174.99 L216 177.24 L217 179.24 L218 180.92 L219 182.96 L220 185.34 L221 187.58 L222 189.35 L223 190.94 L224 192.28 L225 193.87 L226 195.72 L227 197.83 L228 199.39 L229 201.02 L230 202.53 L231 204.33 L232 205.63 L233 207.03 L234 208.32 L235 209.96 L236 211.77 L237 213.59 L238 215.48 L239 217.26 L240 219.40 L241 221.40 L242 223.10 L243 224.94 L244 226.92 L245 229.18 L246 231.27 L247 233.42 L248 235.76 L249 238.26 L250 240.94 L251 243.56 L252 246.05 L253 247.95 L254 249.79 L255 251.32 L256 252.97 L257 254.82 L258 256.82 L259 258.70 L260 260.38 L261 262.12 L262 264.19 L263 266.40 L264 268.28 L265 270.08 L266 271.76 L267 273.60 L268 275.07 L269 276.78 L270 278.28 L271 279.58 L272 280.57 L273 281.82 L274 283.20 L275 284.43 L276 285.49 L277 286.59 L278 287.78 L279 289.00 L280 290.43 L281 291.52 L282 292.85 L283 294.13 L284 295.51 L285 296.60 L286 297.76 L287 299.02 L288 300.16 L289 300.90 L290 301.75 L291 302.68 L292 303.64 L293 304.48 L294 305.43 L295 306.23 L296 306.91 L297 307.48 L298 308.27 L299 309.07 L300 309.67 L301 310.56 L302 311.46 L303 312.42 L304 312.99 L305 313.78 L306 314.74 L307 315.50 L308 316.26 L309 316.82 L310 317.63 L311 318.21 L312 318.82 L313 319.51 L314 320.31 L315 321.22 L316 321.86 L317 322.68 L318 323.33 L319 324.19 L320 324.76 L321 325.55 L322 326.10 L323 326.78 L324 327.38 L325 327.90 L326 328.44 L327 329.11 L328 329.71 L329 330.32 L330 330.79 L331 331.51 L332 332.03 L333 332.51 L334 332.87 L335 333.36 L336 333.89 L337 334.43 L338 334.91 L339 335.33 L340 335.76 L341 336.20 L342 336.56 L343 336.90 L344 337.31 L345 337.64 L346 338.09 L347 338.51 L348 338.96 L349 339.33 L350 339.50 L351 339.74 L352 339.90 L353 340.21 L354 340.42 L355 340.71 L356 341.08 L357 341.48 L358 341.88 L359 342.20 L360 342.49 L361 342.69 L362 342.92 L363 343.17 L364 343.50 L365 343.73 L366 343.93 L367 344.10 L368 344.37 L369 344.60 L370 344.79 L371 344.90 L372 345.09 L373 345.25 L374 345.49 L375 345.71 L376 346.02 L377 346.33 L378 346.66 L379 347.08 L380 347.40 L381 347.72 L382 347.93 L383 348.18 L384 348.47 L385 348.78 L386 349.04 L387 349.26 L388 349.49 L389 349.75 L390 349.95 L391 350.18 L392 350.40 L393 350.68 L394 350.85 L395 351.07 L396 351.26 L397 351.44 L398 351.58 L399 351.69 L400 351.82 L401 351.90 L402 352.01 L403 352.11 L404 352.24 L405 352.33 L406 352.40 L407 352.49 L408 352.58 L409 352.69 L410 352.75 L411 352.83 L412 352.90 L413 352.97 L414 353.06 L415 353.16 L416 353.28 L417 353.40 L418 353.49 L419 353.61 L420 353.71 L421 353.85 L422 353.97 L423 354.10 L424 354.21 L425 354.31 L426 354.41 L427 354.51 L428 354.59 L429 354.66 L430 354.70 L431 354.74 L432 354.81 L433 354.88 L434 354.92 L435 354.94 L436 354.98 L437 355.03 L438 355.09 L439 355.15 L440 355.21 L441 355.25 L442 355.31 L443 355.35 L444 355.41 L445 355.44 L446 355.49 L447 355.54 L448 355.61 L449 355.66 L450 355.70 L451 355.75 L452 355.80 L453 355.86 L454 355.91 L455 355.94 L456 355.99 L457 356.04 L458 356.10 L459 356.16 L460 356.21 L461 356.24 L462 356.28 L463 356.35 L464 356.40 L465 356.45 L466 356.48 L467 356.53 L468 356.57 L469 356.61 L470 356.66 L471 356.70 L472 356.74 L473 356.77 L474 356.81 L475 356.84 L476 356.88 L477 356.90 L478 356.92 L479 356.94 L480 356.97 L481 357.00 L482 357.04 L483 357.08 L484 357.10 L485 357.13 L486 357.15 L487 357.18 L488 357.20 L489 357.22 L490 357.25 L491 357.28 L492 357.30 L493 357.32 L494 357.34 L495 357.36 L496 357.38 L497 357.42 L498 357.44 L499 357.45 L500 357.47 L501 357.49 L502 357.52 L503 357.54 L504 357.56 L505 357.59 L506 357.61 L507 357.62 L508 357.65 L509 357.66 L510 357.69 L511 357.72 L512 357.75 L513 357.76 L514 357.78 L515 357.80 L516 357.82 L517 357.85 L518 357.86 L519 357.88 L520 357.90 L521 357.92 L522 357.93 L523 357.95 L524 357.97 L525 358.00 L526 358.02 L527 358.03 L528 358.05 L529 358.06 L530 358.08 L531 358.09 L532 358.13 L533 358.15" stroke="#ffff20"/>
<path d="M68 359.51 L69 359.50 L70 359.47 L71 359.42 L72 359.36 L73 359.29 L74 359.20 L75 359.11 L76 359.00 L77 358.88 L78 358.75 L79 358.59 L80 358.42 L81 358.22 L82 358.00 L83 357.72 L84 357.40 L85 357.03 L86 356.64 L87 356.20 L88 355.71 L89 355.13 L90 354.45 L91 353.70 L92 352.84 L93 351.89 L94 350.84 L95 349.70 L96 348.39 L97 346.88 L98 345.19 L99 343.30 L100 341.20 L101 338.88 L102 336.32 L103 333.51 L104 330.61 L105 327.36 L106 323.89 L107 320.05 L108 315.75 L109 311.34 L110 306.79 L111 302.27 L112 297.26 L113 291.79 L114 285.70 L115 278.96 L116 272.06 L117 265.03 L118 258.13 L119 251.37 L120 244.81 L121 238.57 L122 232.47 L123 226.59 L124 220.73 L125 215.28 L126 210.00 L127 204.25 L128 198.87 L129 194.23 L130 189.87 L131 185.74 L132 181.63 L133 177.47 L134 173.43 L135 170.29 L136 167.29 L137 164.98 L138 162.76 L139 160.95 L140 159.23 L141 157.58 L142 156.19 L143 155.04 L144 154.22 L145 153.36 L146 152.21 L147 150.99 L148 149.93 L149 149.17 L150 148.41 L151 147.77 L152 147.02 L153 146.37 L154 145.49 L155 144.45 L156 143.59 L157 142.33 L158 141.23 L159 139.76 L160 138.48 L161 137.13 L162 135.74 L163 134.53 L164 133.44 L165 132.60 L166 131.54 L167 130.58 L168 129.47 L169 128.54 L170 127.42 L171 126.32 L172 125.04 L173 124.04 L174 123.14 L175 122.51 L176 121.96 L177 121.39 L178 120.88 L179 120.58 L180 120.35 L181 120.71 L182 120.81 L183 121.24 L184 121.52 L185 122.36 L186 123.46 L187 124.66 L188 125.99 L189 127.65 L190 129.39 L191 131.10 L192 132.64 L193 134.20 L194 136.08 L195 138.11 L196 140.37 L197 142.50 L198 144.74 L199 147.10 L200 149.90 L201 152.22 L202 154.80 L203 157.01 L204 159.60 L205 161.97 L206 164.06 L207 166.00 L208 168.17 L209 170.30 L210 172.54 L211 174.51 L212 176.84 L213 179.03 L214 180.91 L215 182.93 L216 184.92 L217 187.09 L218 188.94 L219 190.70 L220 192.70 L221 194.71 L222 196.82 L223 198.76 L224 200.37 L225 201.77 L226 203.43 L227 204.86 L228 206.41 L229 207.91 L230 209.87 L231 211.31 L232 212.60 L233 213.61 L234 215.06 L235 216.50 L236 218.12 L237 219.85 L238 221.60 L239 223.54 L240 225.31 L241 227.04 L242 228.81 L243 230.75 L244 232.71 L245 234.83 L246 236.87 L247 239.08 L248 241.22 L249 243.48 L250 245.79 L251 248.18 L252 250.50 L253 252.38 L254 253.92 L255 255.36 L256 257.04 L257 258.87 L258 260.62 L259 262.45 L260 264.21 L261 266.27 L262 268.44 L263 270.41 L264 272.10 L265 273.68 L266 275.25 L267 277.18 L268 278.61 L269 280.19 L270 281.43 L271 282.85 L272 284.09 L273 285.26 L274 286.46 L275 287.56 L276 288.82 L277 289.87 L278 290.85 L279 292.00 L280 293.06 L281 294.60 L282 295.96 L283 297.39 L284 298.35 L285 299.12 L286 300.05 L287 301.31 L288 302.29 L289 303.34 L290 304.15 L291 305.11 L292 305.86 L293 306.85 L294 307.52 L295 308.22 L296 308.89 L297 309.87 L298 310.54 L299 311.05 L300 311.52 L301 312.39 L302 313.12 L303 314.07 L304 314.82 L305 315.65 L306 316.30 L307 317.03 L308 317.82 L309 318.53 L310 319.21 L311 319.91 L312 320.60 L313 321.35 L314 321.97 L315 322.61 L316 323.23 L317 324.04 L318 324.87 L319 325.41 L320 325.98 L321 326.51 L322 327.23 L323 327.82 L324 328.46 L325 329.06 L326 329.66 L327 330.28 L328 330.81 L329 331.31 L330 331.78 L331 332.31 L332 332.92 L333 333.41 L334 333.95 L335 334.39 L336 334.94 L337 335.39 L338 335.87 L339 336.26 L340 336.68 L341 337.07 L342 337.39 L343 337.78 L344 338.18 L345 338.61 L346 338.94 L347 339.29 L348 339.62 L349 339.98 L350 340.10 L351 340.39 L352 340.59 L353 340.97 L354 341.29 L355 341.59 L356 341.85 L357 342.00 L358 342.33 L359 342.67 L360 343.05 L361 343.27 L362 343.49 L363 343.77 L364 344.05 L365 344.34 L366 344.52 L367 344.67 L368 344.82 L369 345.05 L370 345.25 L371 345.41 L372 345.53 L373 345.69 L374 345.88 L375 346.08 L376 346.39 L377 346.72 L378 347.11 L379 347.40 L380 347.69 L381 347.95 L382 348.24 L383 348.57 L384 348.94 L385 349.19 L386 349.40 L387 349.59 L388 349.84 L389 350.09 L390 350.30 L391 350.53 L392 350.75 L393 350.96 L394 351.14 L395 351.33 L396 351.51 L397 351.68 L398 351.80 L399 351.93 L400 352.04 L401 352.16 L402 352.26 L403 352.36 L404 352.46 L405 352.50 L406 352.59 L407 352.65 L408 352.77 L409 352.84 L410 352.91 L411 352.96 L412 353.02 L413 353.08 L414 353.16 L415 353.28 L416 353.39 L417 353.51 L418 353.62 L419 353.77 L420 353.90 L421 354.03 L422 354.12 L423 354.22 L424 354.31 L425 354.44 L426 354.55 L427 354.62 L428 354.68 L429 354.72 L430 354.80 L431 354.84 L432 354.91 L433 354.97 L434 355.04 L435 355.07 L436 355.10 L437 355.13 L438 355.19 L439 355.25 L440 355.30 L441 355.33 L442 355.35 L443 355.40 L444 355.46 L445 355.51 L446 355.53 L447 355.58 L448 355.63 L449 355.70 L450 355.75 L451 355.81 L452 355.87 L453 355.91 L454 355.95 L455 356.00 L456 356.06 L457 356.12 L458 356.17 L459 356.21 L460 356.26 L461 356.29 L462 356.35 L463 356.40 L464 356.45 L465 356.48 L466 356.53 L467 356.59 L468 356.64 L469 356.69 L470 356.71 L471 356.75 L472 356.77 L473 356.84 L474 356.86 L475 356.90 L476 356.91 L477 356.96 L478 357.01 L479 357.04 L480 357.07 L481 357.10 L482 357.12 L483 357.15 L484 357.18 L485 357.20 L486 357.22 L487 357.24 L488 357.28 L489 357.30 L490 357.32 L491 357.35 L492 357.38 L493 357.40 L494 357.42 L495 357.44 L496 357.46 L497 357.49 L498 357.52 L499 357.53 L500 357.55 L501 357.57 L502 357.59 L503 357.61 L504 357.63 L505 357.65 L506 357.67 L507 357.69 L508 357.71 L509 357.73 L510 357.75 L511 357.77 L512 357.79 L513 357.82 L514 357.84 L515 357.86 L516 357.88 L517 357.90 L518 357.92 L519 357.94 L520 357.95 L521 357.97 L522 358.00 L523 358.02 L524 358.04 L525 358.05 L526 358.06 L527 358.08 L528 358.09 L529 358.12 L530 358.13 L531 358.16 L532 358.18 L533 358.20" stroke="#8a8a20"/>
<path d="M68 359.54 L69 359.53 L70 359.50 L71 359.46 L72 359.41 L73 359.34 L74 359.26 L75 359.17 L76 359.06 L77 358.95 L78 358.83 L79 358.70 L80 358.55 L81 358.38 L82 358.17 L83 357.92 L84 357.62 L85 357.29 L86 356.92 L87 356.53 L88 356.08 L89 355.55 L90 354.92 L91 354.20 L92 353.40 L93 352.52 L94 351.52 L95 350.43 L96 349.19 L97 347.82 L98 346.29 L99 344.50 L100 342.57 L101 340.47 L102 338.16 L103 335.66 L104 332.95 L105 330.04 L106 326.88 L107 323.40 L108 319.66 L109 315.56 L110 311.46 L111 307.10 L112 302.64 L113 297.82 L114 292.41 L115 286.30 L116 280.34 L117 274.27 L118 268.24 L119 262.06 L120 256.18 L121 250.57 L122 245.06 L123 239.61 L124 234.21 L125 229.25 L126 224.72 L127 219.55 L128 214.82 L129 210.40 L130 206.20 L131 201.92 L132 197.86 L133 193.99 L134 190.56 L135 187.46 L136 184.67 L137 182.21 L138 180.29 L139 178.64 L140 177.17 L141 175.61 L142 174.47 L143 173.45 L144 172.54 L145 171.52 L146 170.49 L147 169.57 L148 168.58 L149 167.81 L150 166.97 L151 166.14 L152 165.37 L153 164.68 L154 163.80 L155 162.81 L156 161.58 L157 160.62 L158 159.42 L159 158.30 L160 156.80 L161 155.62 L162 154.30 L163 153.27 L164 152.25 L165 151.32 L166 150.38 L167 149.50 L168 148.63 L169 147.91 L170 147.16 L171 146.15 L172 144.96 L173 143.56 L174 142.61 L175 142.03 L176 141.68 L177 141.32 L178 140.87 L179 140.46 L180 140.13 L181 140.26 L182 140.70 L183 141.48 L184 141.99 L185 142.78 L186 143.49 L187 144.59 L188 145.86 L189 147.47 L190 149.19 L191 150.87 L192 152.18 L193 153.72 L194 155.38 L195 157.49 L196 159.62 L197 161.71 L198 163.83 L199 166.14 L200 168.49 L201 170.98 L202 173.23 L203 175.39 L204 177.36 L205 179.47 L206 181.37 L207 183.13 L208 184.68 L209 186.33 L210 188.00 L211 189.68 L212 191.62 L213 193.55 L214 195.62 L215 197.42 L216 199.40 L217 201.12 L218 203.03 L219 204.92 L220 207.01 L221 208.98 L222 210.85 L223 212.53 L224 214.00 L225 215.29 L226 216.72 L227 218.32 L228 219.75 L229 221.16 L230 222.35 L231 223.48 L232 224.94 L233 226.28 L234 227.42 L235 228.47 L236 229.69 L237 231.15 L238 232.63 L239 234.30 L240 236.21 L241 238.00 L242 239.56 L243 241.20 L244 242.95 L245 244.96 L246 246.94 L247 248.85 L248 250.97 L249 252.91 L250 254.86 L251 256.96 L252 259.07 L253 260.96 L254 262.25 L255 263.53 L256 264.74 L257 266.24 L258 267.88 L259 269.68 L260 271.47 L261 273.45 L262 275.51 L263 277.68 L264 279.40 L265 280.97 L266 282.44 L267 283.98 L268 285.12 L269 286.40 L270 287.64 L271 289.06 L272 290.14 L273 291.17 L274 292.35 L275 293.43 L276 294.49 L277 295.47 L278 296.55 L279 297.57 L280 298.51 L281 299.46 L282 300.71 L283 301.85 L284 303.06 L285 303.99 L286 304.90 L287 305.55 L288 306.34 L289 307.43 L290 308.31 L291 309.06 L292 309.61 L293 310.57 L294 311.39 L295 312.02 L296 312.52 L297 313.17 L298 313.91 L299 314.67 L300 315.51 L301 316.23 L302 316.82 L303 317.24 L304 317.72 L305 318.40 L306 319.20 L307 320.04 L308 320.68 L309 321.33 L310 321.92 L311 322.59 L312 323.20 L313 323.89 L314 324.56 L315 325.31 L316 325.95 L317 326.58 L318 327.20 L319 327.86 L320 328.54 L321 329.03 L322 329.65 L323 330.17 L324 330.73 L325 331.22 L326 331.72 L327 332.28 L328 332.81 L329 333.45 L330 333.94 L331 334.47 L332 334.89 L333 335.50 L334 335.94 L335 336.42 L336 336.82 L337 337.17 L338 337.51 L339 337.76 L340 338.14 L341 338.53 L342 338.94 L343 339.35 L344 339.67 L345 340.00 L346 340.32 L347 340.63 L348 340.92 L349 341.15 L350 341.44 L351 341.75 L352 342.01 L353 342.25 L354 342.40 L355 342.66 L356 342.94 L357 343.23 L358 343.54 L359 343.79 L360 344.09 L361 344.30 L362 344.50 L363 344.73 L364 345.00 L365 345.25 L366 345.47 L367 345.62 L368 345.80 L369 345.98 L370 346.14 L371 346.27 L372 346.40 L373 346.56 L374 346.76 L375 346.98 L376 347.17 L377 347.48 L378 347.82 L379 348.21 L380 348.47 L381 348.77 L382 349.12 L383 349.45 L384 349.66 L385 349.82 L386 350.03 L387 350.28 L388 350.53 L389 350.76 L390 350.93 L391 351.11 L392 351.29 L393 351.55 L394 351.73 L395 351.87 L396 352.00 L397 352.15 L398 352.27 L399 352.40 L400 352.49 L401 352.62 L402 352.69 L403 352.78 L404 352.85 L405 352.93 L406 352.98 L407 353.02 L408 353.07 L409 353.14 L410 353.19 L411 353.24 L412 353.30 L413 353.37 L414 353.41 L415 353.51 L416 353.64 L417 353.80 L418 353.92 L419 354.01 L420 354.12 L421 354.23 L422 354.35 L423 354.47 L424 354.58 L425 354.68 L426 354.78 L427 354.86 L428 354.95 L429 355.01 L430 355.06 L431 355.11 L432 355.13 L433 355.15 L434 355.19 L435 355.24 L436 355.30 L437 355.33 L438 355.37 L439 355.40 L440 355.45 L441 355.48 L442 355.53 L443 355.58 L444 355.62 L445 355.67 L446 355.72 L447 355.77 L448 355.81 L449 355.85 L450 355.90 L451 355.95 L452 356.00 L453 356.08 L454 356.14 L455 356.19 L456 356.22 L457 356.27 L458 356.33 L459 356.38 L460 356.42 L461 356.48 L462 356.51 L463 356.56 L464 356.59 L465 356.63 L466 356.66 L467 356.73 L468 356.79 L469 356.84 L470 356.86 L471 356.90 L472 356.94 L473 356.98 L474 357.02 L475 357.07 L476 357.11 L477 357.13 L478 357.14 L479 357.16 L480 357.18 L481 357.22 L482 357.24 L483 357.28 L484 357.30 L485 357.33 L486 357.36 L487 357.38 L488 357.41 L489 357.43 L490 357.46 L491 357.48 L492 357.50 L493 357.52 L494 357.55 L495 357.57 L496 357.59 L497 357.61 L498 357.63 L499 357.65 L500 357.67 L501 357.70 L502 357.72 L503 357.74 L504 357.76 L505 357.78 L506 357.80 L507 357.81 L508 357.84 L509 357.86 L510 357.89 L511 357.91 L512 357.93 L513 357.95 L514 357.98 L515 357.99 L516 358.00 L517 358.02 L518 358.04 L519 358.06 L520 358.08 L521 358.09 L522 358.11 L523 358.13 L524 358.15 L525 358.16 L526 358.18 L527 358.19 L528 358.21 L529 358.22 L530 358.24 L531 358.25 L532 358.28 L533 358.29" stroke="#28288a"/>
<path d="M68 359.54 L69 359.54 L70 359.51 L71 359.47 L72 359.42 L73 359.34 L74 359.27 L75 359.18 L76 359.09 L77 358.98 L78 358.85 L79 358.72 L80 358.58 L81 358.42 L82 358.22 L83 357.99 L84 357.70 L85 357.38 L86 357.03 L87 356.64 L88 356.19 L89 355.68 L90 355.07 L91 354.37 L92 353.59 L93 352.72 L94 351.77 L95 350.70 L96 349.44 L97 348.04 L98 346.49 L99 344.83 L100 342.96 L101 340.93 L102 338.66 L103 336.20 L104 333.57 L105 330.63 L106 327.60 L107 324.19 L108 320.66 L109 316.65 L110 312.72 L111 308.39 L112 304.13 L113 299.37 L114 294.01 L115 288.38 L116 282.64 L117 276.84 L118 270.74 L119 264.59 L120 258.60 L121 252.98 L122 247.48 L123 242.34 L124 236.96 L125 232.48 L126 228.33 L127 223.52 L128 218.82 L129 214.42 L130 210.26 L131 206.27 L132 202.14 L133 198.37 L134 194.87 L135 191.95 L136 189.25 L137 186.98 L138 185.03 L139 183.33 L140 181.65 L141 180.03 L142 178.79 L143 177.83 L144 176.91 L145 175.73 L146 174.69 L147 173.94 L148 173.33 L149 172.42 L150 171.67 L151 170.75 L152 170.20 L153 169.23 L154 168.58 L155 167.65 L156 166.66 L157 165.50 L158 164.15 L159 162.83 L160 161.41 L161 160.12 L162 159.08 L163 158.17 L164 157.28 L165 156.17 L166 155.22 L167 154.36 L168 153.65 L169 152.72 L170 151.79 L171 150.92 L172 149.85 L173 148.87 L174 147.68 L175 147.04 L176 146.50 L177 146.15 L178 145.83 L179 145.53 L180 145.47 L181 145.44 L182 145.80 L183 146.08 L184 146.79 L185 147.64 L186 148.59 L187 149.58 L188 150.69 L189 152.25 L190 153.76 L191 155.55 L192 157.17 L193 158.99 L194 160.56 L195 162.13 L196 164.12 L197 166.28 L198 168.88 L199 171.22 L200 173.73 L201 175.82 L202 177.85 L203 179.58 L204 181.45 L205 183.42 L206 185.42 L207 187.25 L208 188.91 L209 190.43 L210 192.07 L211 193.62 L212 195.45 L213 197.33 L214 199.06 L215 200.92 L216 202.72 L217 204.90 L218 206.75 L219 208.48 L220 210.30 L221 212.17 L222 213.85 L223 215.46 L224 216.81 L225 218.23 L226 219.70 L227 221.30 L228 222.79 L229 224.44 L230 225.67 L231 227.10 L232 228.11 L233 229.55 L234 230.61 L235 231.90 L236 232.89 L237 234.33 L238 235.63 L239 237.19 L240 238.82 L241 240.66 L242 242.60 L243 244.30 L244 245.76 L245 247.31 L246 249.20 L247 251.29 L248 253.42 L249 255.37 L250 257.27 L251 259.25 L252 261.16 L253 262.97 L254 264.25 L255 265.64 L256 266.96 L257 268.68 L258 270.42 L259 271.91 L260 273.38 L261 275.02 L262 276.99 L263 278.85 L264 280.83 L265 282.60 L266 284.44 L267 285.72 L268 287.14 L269 288.37 L270 289.61 L271 290.88 L272 291.87 L273 292.98 L274 293.63 L275 294.84 L276 295.70 L277 296.69 L278 297.38 L279 298.47 L280 299.91 L281 301.25 L282 302.18 L283 302.78 L284 303.98 L285 305.01 L286 305.96 L287 306.55 L288 307.51 L289 308.64 L290 309.41 L291 310.06 L292 310.74 L293 311.42 L294 312.25 L295 312.90 L296 313.73 L297 314.27 L298 314.81 L299 315.34 L300 316.04 L301 316.56 L302 317.08 L303 317.68 L304 318.41 L305 319.33 L306 320.06 L307 320.88 L308 321.39 L309 322.02 L310 322.60 L311 323.35 L312 323.99 L313 324.75 L314 325.28 L315 326.02 L316 326.57 L317 327.22 L318 327.87 L319 328.51 L320 329.12 L321 329.55 L322 330.12 L323 330.66 L324 331.30 L325 331.77 L326 332.38 L327 332.85 L328 333.42 L329 334.02 L330 334.65 L331 335.12 L332 335.49 L333 335.79 L334 336.27 L335 336.77 L336 337.21 L337 337.55 L338 337.89 L339 338.27 L340 338.67 L341 339.07 L342 339.46 L343 339.83 L344 340.19 L345 340.52 L346 340.86 L347 341.11 L348 341.37 L349 341.68 L350 341.89 L351 342.16 L352 342.31 L353 342.57 L354 342.76 L355 343.04 L356 343.34 L357 343.68 L358 343.87 L359 344.12 L360 344.31 L361 344.58 L362 344.80 L363 345.05 L364 345.30 L365 345.52 L366 345.78 L367 345.98 L368 346.15 L369 346.21 L370 346.37 L371 346.48 L372 346.65 L373 346.76 L374 346.95 L375 347.15 L376 347.39 L377 347.65 L378 347.96 L379 348.31 L380 348.67 L381 349.03 L382 349.37 L383 349.62 L384 349.82 L385 350.03 L386 350.24 L387 350.49 L388 350.71 L389 350.92 L390 351.12 L391 351.33 L392 351.54 L393 351.71 L394 351.86 L395 352.02 L396 352.17 L397 352.31 L398 352.42 L399 352.53 L400 352.60 L401 352.70 L402 352.77 L403 352.86 L404 352.89 L405 352.96 L406 353.02 L407 353.11 L408 353.18 L409 353.24 L410 353.30 L411 353.35 L412 353.39 L413 353.44 L414 353.51 L415 353.61 L416 353.74 L417 353.86 L418 353.97 L419 354.09 L420 354.20 L421 354.32 L422 354.43 L423 354.55 L424 354.65 L425 354.74 L426 354.83 L427 354.91 L428 355.01 L429 355.08 L430 355.14 L431 355.16 L432 355.19 L433 355.23 L434 355.29 L435 355.33 L436 355.37 L437 355.41 L438 355.46 L439 355.50 L440 355.54 L441 355.55 L442 355.58 L443 355.61 L444 355.65 L445 355.71 L446 355.78 L447 355.83 L448 355.87 L449 355.90 L450 355.96 L451 356.01 L452 356.05 L453 356.10 L454 356.14 L455 356.20 L456 356.25 L457 356.31 L458 356.35 L459 356.40 L460 356.45 L461 356.49 L462 356.54 L463 356.57 L464 356.61 L465 356.67 L466 356.73 L467 356.77 L468 356.81 L469 356.85 L470 356.91 L471 356.95 L472 356.98 L473 357.00 L474 357.04 L475 357.08 L476 357.13 L477 357.16 L478 357.18 L479 357.20 L480 357.24 L481 357.26 L482 357.30 L483 357.33 L484 357.36 L485 357.38 L486 357.40 L487 357.43 L488 357.45 L489 357.47 L490 357.49 L491 357.52 L492 357.55 L493 357.57 L494 357.59 L495 357.60 L496 357.62 L497 357.64 L498 357.67 L499 357.69 L500 357.71 L501 357.73 L502 357.76 L503 357.78 L504 357.79 L505 357.81 L506 357.84 L507 357.87 L508 357.89 L509 357.90 L510 357.91 L511 357.94 L512 357.96 L513 357.98 L514 357.99 L515 358.01 L516 358.03 L517 358.04 L518 358.06 L519 358.08 L520 358.10 L521 358.12 L522 358.13 L523 358.15 L524 358.17 L525 358.18 L526 358.20 L527 358.22 L528 358.24 L529 358.25 L530 358.27 L531 358.29 L532 358.31 L533 358.32" stroke="#962896"/>
<path d="M68 359.57 L69 359.56 L70 359.54 L71 359.50 L72 359.45 L73 359.38 L74 359.31 L75 359.23 L76 359.14 L77 359.04 L78 358.93 L79 358.81 L80 358.68 L81 358.54 L82 358.35 L83 358.11 L84 357.85 L85 357.56 L86 357.24 L87 356.86 L88 356.45 L89 355.97 L90 355.41 L91 354.75 L92 354.02 L93 353.16 L94 352.29 L95 351.26 L96 350.07 L97 348.69 L98 347.25 L99 345.77 L100 343.95 L101 341.89 L102 339.66 L103 337.41 L104 335.01 L105 332.30 L106 329.53 L107 326.34 L108 322.92 L109 319.17 L110 315.58 L111 311.80 L112 307.94 L113 303.55 L114 298.85 L115 293.39 L116 288.14 L117 282.79 L118 277.61 L119 271.90 L120 266.28 L121 260.79 L122 256.14 L123 251.07 L124 246.44 L125 242.03 L126 238.31 L127 233.38 L128 228.83 L129 224.52 L130 220.62 L131 216.93 L132 213.21 L133 210.03 L134 206.61 L135 203.69 L136 201.06 L137 198.97 L138 197.18 L139 195.39 L140 193.74 L141 192.24 L142 191.03 L143 190.11 L144 189.18 L145 188.24 L146 187.33 L147 186.58 L148 185.98 L149 185.08 L150 184.13 L151 183.18 L152 182.72 L153 181.96 L154 181.40 L155 180.60 L156 179.44 L157 178.14 L158 176.75 L159 175.67 L160 174.13 L161 172.88 L162 171.76 L163 171.08 L164 170.21 L165 169.29 L166 168.55 L167 167.87 L168 167.31 L169 166.32 L170 165.41 L171 164.38 L172 163.36 L173 162.14 L174 161.34 L175 160.58 L176 160.36 L177 159.76 L178 159.60 L179 159.23 L180 159.12 L181 159.08 L182 159.41 L183 160.21 L184 161.00 L185 161.77 L186 162.55 L187 163.46 L188 164.64 L189 165.92 L190 167.64 L191 169.27 L192 170.88 L193 172.35 L194 173.94 L195 175.69 L196 177.73 L197 179.73 L198 181.65 L199 183.79 L200 185.97 L201 188.14 L202 190.14 L203 192.07 L204 193.84 L205 195.40 L206 196.94 L207 198.35 L208 199.99 L209 201.41 L210 202.93 L211 204.26 L212 205.91 L213 207.50 L214 209.06 L215 211.01 L216 212.75 L217 214.77 L218 216.20 L219 218.14 L220 219.75 L221 221.80 L222 223.49 L223 225.06 L224 226.57 L225 227.77 L226 229.39 L227 230.77 L228 232.28 L229 233.71 L230 234.77 L231 235.82 L232 236.82 L233 237.80 L234 238.81 L235 239.85 L236 240.99 L237 242.17 L238 243.35 L239 245.04 L240 246.88 L241 248.30 L242 249.65 L243 251.12 L244 252.92 L245 254.65 L246 256.21 L247 258.00 L248 259.87 L249 261.85 L250 263.75 L251 265.44 L252 267.03 L253 268.38 L254 269.61 L255 270.91 L256 272.13 L257 273.73 L258 275.08 L259 276.70 L260 278.15 L261 280.14 L262 281.99 L263 284.01 L264 285.65 L265 287.27 L266 288.71 L267 290.22 L268 291.68 L269 292.73 L270 293.93 L271 295.06 L272 296.28 L273 297.22 L274 298.04 L275 298.87 L276 299.76 L277 300.81 L278 301.74 L279 302.70 L280 303.66 L281 304.57 L282 305.69 L283 306.55 L284 307.73 L285 308.39 L286 309.08 L287 309.71 L288 310.54 L289 311.30 L290 312.14 L291 312.86 L292 313.56 L293 314.20 L294 314.83 L295 315.58 L296 316.13 L297 316.68 L298 317.14 L299 317.73 L300 318.35 L301 319.04 L302 319.52 L303 320.13 L304 320.75 L305 321.34 L306 321.97 L307 322.73 L308 323.44 L309 324.06 L310 324.54 L311 325.18 L312 325.90 L313 326.54 L314 327.20 L315 327.72 L316 328.37 L317 328.96 L318 329.56 L319 330.07 L320 330.73 L321 331.30 L322 331.87 L323 332.40 L324 332.93 L325 333.51 L326 333.91 L327 334.47 L328 334.82 L329 335.37 L330 335.79 L331 336.33 L332 336.83 L333 337.32 L334 337.81 L335 338.23 L336 338.60 L337 338.95 L338 339.23 L339 339.62 L340 339.95 L341 340.25 L342 340.46 L343 340.73 L344 341.07 L345 341.48 L346 341.84 L347 342.22 L348 342.43 L349 342.65 L350 342.90 L351 343.08 L352 343.29 L353 343.40 L354 343.67 L355 344.02 L356 344.30 L357 344.58 L358 344.78 L359 345.01 L360 345.19 L361 345.36 L362 345.62 L363 345.82 L364 346.00 L365 346.24 L366 346.46 L367 346.67 L368 346.80 L369 346.95 L370 347.05 L371 347.13 L372 347.24 L373 347.37 L374 347.51 L375 347.72 L376 347.98 L377 348.31 L378 348.61 L379 348.91 L380 349.24 L381 349.56 L382 349.86 L383 350.09 L384 350.33 L385 350.53 L386 350.74 L387 350.93 L388 351.13 L389 351.33 L390 351.51 L391 351.75 L392 351.92 L393 352.14 L394 352.28 L395 352.46 L396 352.59 L397 352.69 L398 352.81 L399 352.89 L400 352.99 L401 353.03 L402 353.10 L403 353.14 L404 353.23 L405 353.28 L406 353.36 L407 353.39 L408 353.43 L409 353.47 L410 353.51 L411 353.58 L412 353.65 L413 353.73 L414 353.79 L415 353.88 L416 353.97 L417 354.09 L418 354.18 L419 354.28 L420 354.38 L421 354.50 L422 354.63 L423 354.76 L424 354.88 L425 354.99 L426 355.06 L427 355.13 L428 355.20 L429 355.27 L430 355.31 L431 355.35 L432 355.39 L433 355.42 L434 355.45 L435 355.49 L436 355.53 L437 355.58 L438 355.61 L439 355.64 L440 355.67 L441 355.72 L442 355.76 L443 355.78 L444 355.82 L445 355.87 L446 355.91 L447 355.95 L448 356.00 L449 356.06 L450 356.10 L451 356.15 L452 356.19 L453 356.23 L454 356.29 L455 356.34 L456 356.40 L457 356.44 L458 356.50 L459 356.53 L460 356.57 L461 356.62 L462 356.67 L463 356.71 L464 356.75 L465 356.80 L466 356.84 L467 356.88 L468 356.93 L469 356.98 L470 357.04 L471 357.06 L472 357.10 L473 357.13 L474 357.17 L475 357.19 L476 357.23 L477 357.26 L478 357.30 L479 357.31 L480 357.35 L481 357.37 L482 357.41 L483 357.43 L484 357.46 L485 357.47 L486 357.51 L487 357.53 L488 357.55 L489 357.56 L490 357.59 L491 357.62 L492 357.65 L493 357.67 L494 357.69 L495 357.72 L496 357.74 L497 357.75 L498 357.78 L499 357.80 L500 357.82 L501 357.83 L502 357.83 L503 357.86 L504 357.88 L505 357.91 L506 357.93 L507 357.95 L508 357.98 L509 357.99 L510 358.01 L511 358.03 L512 358.05 L513 358.07 L514 358.09 L515 358.10 L516 358.12 L517 358.13 L518 358.15 L519 358.17 L520 358.18 L521 358.20 L522 358.22 L523 358.24 L524 358.25 L525 358.27 L526 358.28 L527 358.30 L528 358.31 L529 358.33 L530 358.35 L531 358.37 L532 358.38 L533 358.39" stroke="#a02030"/>
<path d="M68 359.58 L69 359.57 L70 359.55 L71 359.51 L72 359.47 L73 359.40 L74 359.33 L75 359.25 L76 359.16 L77 359.06 L78 358.96 L79 358.85 L80 358.73 L81 358.60 L82 358.40 L83 358.19 L84 357.94 L85 357.66 L86 357.34 L87 356.98 L88 356.59 L89 356.14 L90 355.60 L91 354.99 L92 354.29 L93 353.49 L94 352.64 L95 351.60 L96 350.46 L97 349.17 L98 347.84 L99 346.38 L100 344.74 L101 342.81 L102 340.66 L103 338.39 L104 336.04 L105 333.53 L106 330.88 L107 327.91 L108 324.49 L109 320.80 L110 317.50 L111 314.16 L112 310.42 L113 305.93 L114 301.26 L115 296.46 L116 291.62 L117 286.38 L118 281.14 L119 275.92 L120 270.82 L121 265.72 L122 260.89 L123 256.00 L124 251.53 L125 247.63 L126 244.20 L127 239.73 L128 235.52 L129 231.20 L130 227.42 L131 223.50 L132 220.10 L133 216.56 L134 213.38 L135 210.47 L136 208.20 L137 206.25 L138 204.11 L139 202.24 L140 200.58 L141 199.47 L142 198.36 L143 197.32 L144 196.42 L145 195.37 L146 194.67 L147 193.59 L148 192.94 L149 191.99 L150 191.53 L151 190.74 L152 190.19 L153 189.42 L154 188.78 L155 187.92 L156 186.99 L157 185.78 L158 184.55 L159 183.22 L160 182.07 L161 180.81 L162 179.42 L163 178.36 L164 177.47 L165 176.86 L166 176.03 L167 175.28 L168 174.50 L169 173.88 L170 173.20 L171 172.41 L172 171.50 L173 170.35 L174 169.46 L175 168.76 L176 168.33 L177 168.02 L178 167.70 L179 167.69 L180 167.51 L181 167.72 L182 167.83 L183 168.40 L184 169.02 L185 169.89 L186 170.51 L187 171.46 L188 172.76 L189 174.27 L190 175.69 L191 177.08 L192 178.73 L193 180.41 L194 181.86 L195 183.32 L196 185.27 L197 187.50 L198 189.86 L199 191.86 L200 193.95 L201 195.53 L202 197.40 L203 198.93 L204 200.67 L205 202.09 L206 203.79 L207 205.48 L208 206.86 L209 208.00 L210 209.25 L211 210.57 L212 212.06 L213 213.56 L214 215.40 L215 217.08 L216 218.50 L217 220.11 L218 221.90 L219 223.85 L220 225.56 L221 227.12 L222 228.89 L223 230.54 L224 232.13 L225 233.49 L226 235.05 L227 236.43 L228 237.73 L229 238.71 L230 239.75 L231 240.76 L232 241.96 L233 242.96 L234 243.85 L235 244.77 L236 245.88 L237 247.06 L238 248.31 L239 249.47 L240 250.91 L241 252.50 L242 254.17 L243 255.74 L244 257.24 L245 258.91 L246 260.45 L247 262.04 L248 263.65 L249 265.60 L250 267.52 L251 269.52 L252 271.08 L253 272.25 L254 273.26 L255 274.37 L256 275.64 L257 276.90 L258 278.42 L259 279.93 L260 281.62 L261 283.37 L262 285.30 L263 287.21 L264 288.79 L265 290.36 L266 291.68 L267 292.96 L268 294.08 L269 295.23 L270 296.40 L271 297.45 L272 298.68 L273 299.75 L274 300.73 L275 301.43 L276 302.15 L277 303.01 L278 303.84 L279 304.80 L280 305.63 L281 306.75 L282 307.80 L283 308.86 L284 309.69 L285 310.16 L286 310.84 L287 311.58 L288 312.58 L289 313.15 L290 313.79 L291 314.49 L292 315.25 L293 315.78 L294 316.31 L295 316.73 L296 317.45 L297 318.00 L298 318.76 L299 319.25 L300 319.82 L301 320.49 L302 320.96 L303 321.49 L304 321.78 L305 322.39 L306 322.90 L307 323.74 L308 324.44 L309 325.17 L310 325.80 L311 326.36 L312 327.02 L313 327.54 L314 328.17 L315 328.78 L316 329.39 L317 330.01 L318 330.52 L319 331.01 L320 331.62 L321 332.23 L322 332.82 L323 333.28 L324 333.73 L325 334.29 L326 334.72 L327 335.30 L328 335.80 L329 336.34 L330 336.81 L331 337.24 L332 337.76 L333 338.18 L334 338.52 L335 338.80 L336 339.21 L337 339.60 L338 339.98 L339 340.21 L340 340.59 L341 340.93 L342 341.29 L343 341.54 L344 341.82 L345 342.16 L346 342.47 L347 342.71 L348 342.99 L349 343.29 L350 343.55 L351 343.73 L352 343.93 L353 344.18 L354 344.44 L355 344.67 L356 344.86 L357 345.03 L358 345.24 L359 345.51 L360 345.72 L361 345.93 L362 346.09 L363 346.34 L364 346.47 L365 346.71 L366 346.93 L367 347.18 L368 347.29 L369 347.29 L370 347.37 L371 347.52 L372 347.71 L373 347.84 L374 347.94 L375 348.12 L376 348.33 L377 348.60 L378 348.89 L379 349.25 L380 349.60 L381 349.89 L382 350.15 L383 350.39 L384 350.64 L385 350.85 L386 351.04 L387 351.26 L388 351.44 L389 351.67 L390 351.84 L391 352.03 L392 352.17 L393 352.36 L394 352.48 L395 352.63 L396 352.74 L397 352.86 L398 352.97 L399 353.07 L400 353.16 L401 353.22 L402 353.28 L403 353.33 L404 353.41 L405 353.47 L406 353.54 L407 353.59 L408 353.65 L409 353.67 L410 353.71 L411 353.74 L412 353.79 L413 353.86 L414 353.93 L415 354.02 L416 354.11 L417 354.22 L418 354.30 L419 354.42 L420 354.53 L421 354.65 L422 354.76 L423 354.88 L424 355.00 L425 355.10 L426 355.19 L427 355.27 L428 355.34 L429 355.40 L430 355.45 L431 355.48 L432 355.50 L433 355.54 L434 355.57 L435 355.62 L436 355.64 L437 355.70 L438 355.72 L439 355.75 L440 355.75 L441 355.79 L442 355.83 L443 355.88 L444 355.91 L445 355.96 L446 356.01 L447 356.07 L448 356.10 L449 356.14 L450 356.19 L451 356.23 L452 356.29 L453 356.33 L454 356.39 L455 356.42 L456 356.47 L457 356.51 L458 356.56 L459 356.61 L460 356.65 L461 356.71 L462 356.75 L463 356.81 L464 356.85 L465 356.90 L466 356.93 L467 356.98 L468 357.01 L469 357.05 L470 357.08 L471 357.13 L472 357.17 L473 357.21 L474 357.25 L475 357.29 L476 357.31 L477 357.34 L478 357.37 L479 357.40 L480 357.43 L481 357.44 L482 357.47 L483 357.49 L484 357.53 L485 357.54 L486 357.57 L487 357.59 L488 357.62 L489 357.64 L490 357.68 L491 357.70 L492 357.73 L493 357.75 L494 357.77 L495 357.78 L496 357.80 L497 357.82 L498 357.84 L499 357.86 L500 357.88 L501 357.89 L502 357.92 L503 357.95 L504 357.96 L505 357.97 L506 357.99 L507 358.01 L508 358.01 L509 358.04 L510 358.05 L511 358.08 L512 358.10 L513 358.12 L514 358.14 L515 358.16 L516 358.18 L517 358.20 L518 358.21 L519 358.23 L520 358.25 L521 358.26 L522 358.28 L523 358.30 L524 358.32 L525 358.33 L526 358.34 L527 358.35 L528 358.37 L529 358.38 L530 358.40 L531 358.41 L532 358.42 L533 358.43" stroke="#20983c"/>
<path d="M68 359.60 L69 359.59 L70 359.57 L71 359.54 L72 359.49 L73 359.43 L74 359.37 L75 359.29 L76 359.20 L77 359.11 L78 359.01 L79 358.91 L80 358.80 L81 358.67 L82 358.51 L83 358.31 L84 358.07 L85 357.78 L86 357.48 L87 357.15 L88 356.81 L89 356.38 L90 355.86 L91 355.22 L92 354.53 L93 353.79 L94 353.03 L95 352.14 L96 351.05 L97 349.79 L98 348.48 L99 347.08 L100 345.51 L101 343.62 L102 341.56 L103 339.46 L104 337.36 L105 335.02 L106 332.45 L107 329.58 L108 326.47 L109 323.27 L110 319.84 L111 316.49 L112 312.77 L113 309.06 L114 304.79 L115 300.31 L116 295.65 L117 291.01 L118 286.51 L119 281.75 L120 276.68 L121 271.39 L122 266.45 L123 261.71 L124 257.63 L125 254.47 L126 251.44 L127 247.49 L128 243.10 L129 239.10 L130 235.17 L131 231.52 L132 227.80 L133 224.59 L134 221.98 L135 219.43 L136 217.25 L137 215.20 L138 213.49 L139 211.71 L140 210.05 L141 208.71 L142 207.69 L143 206.85 L144 206.09 L145 205.18 L146 204.30 L147 203.47 L148 202.53 L149 201.72 L150 201.00 L151 200.25 L152 199.63 L153 198.86 L154 198.23 L155 197.35 L156 196.31 L157 195.42 L158 194.04 L159 192.81 L160 191.21 L161 190.28 L162 189.39 L163 188.84 L164 187.91 L165 187.11 L166 186.11 L167 185.47 L168 184.77 L169 184.00 L170 183.25 L171 182.30 L172 181.60 L173 180.83 L174 179.99 L175 179.39 L176 178.76 L177 178.28 L178 177.86 L179 177.69 L180 177.68 L181 177.77 L182 178.37 L183 179.12 L184 180.07 L185 180.88 L186 181.85 L187 183.21 L188 184.52 L189 186.02 L190 187.21 L191 188.62 L192 190.18 L193 191.86 L194 193.56 L195 195.23 L196 196.98 L197 198.89 L198 200.88 L199 202.98 L200 204.81 L201 206.55 L202 208.12 L203 209.87 L204 211.24 L205 212.71 L206 213.67 L207 214.90 L208 216.09 L209 217.41 L210 218.67 L211 219.88 L212 221.28 L213 222.83 L214 224.49 L215 226.24 L216 227.81 L217 229.37 L218 230.70 L219 232.45 L220 234.07 L221 235.90 L222 237.51 L223 239.06 L224 240.52 L225 241.65 L226 242.97 L227 244.14 L228 245.37 L229 246.35 L230 247.45 L231 248.16 L232 249.00 L233 249.67 L234 250.71 L235 251.66 L236 252.60 L237 253.63 L238 254.89 L239 256.27 L240 257.49 L241 258.68 L242 259.92 L243 261.52 L244 262.97 L245 264.69 L246 266.31 L247 267.91 L248 269.59 L249 271.03 L250 272.63 L251 274.03 L252 275.47 L253 276.77 L254 277.67 L255 278.68 L256 279.72 L257 280.91 L258 282.42 L259 284.01 L260 285.72 L261 287.36 L262 289.15 L263 290.91 L264 292.58 L265 293.98 L266 295.31 L267 296.52 L268 297.55 L269 298.45 L270 299.53 L271 300.68 L272 302.11 L273 302.95 L274 303.84 L275 304.35 L276 305.02 L277 305.68 L278 306.62 L279 307.63 L280 308.69 L281 309.71 L282 310.46 L283 311.12 L284 311.97 L285 312.98 L286 313.64 L287 314.10 L288 314.85 L289 315.54 L290 316.37 L291 316.67 L292 317.36 L293 317.79 L294 318.58 L295 319.29 L296 319.97 L297 320.56 L298 321.06 L299 321.64 L300 322.06 L301 322.31 L302 322.55 L303 323.10 L304 323.82 L305 324.57 L306 325.07 L307 325.60 L308 326.02 L309 326.58 L310 327.21 L311 327.89 L312 328.47 L313 329.17 L314 329.81 L315 330.51 L316 331.00 L317 331.54 L318 332.00 L319 332.55 L320 333.02 L321 333.52 L322 334.03 L323 334.56 L324 335.14 L325 335.49 L326 336.06 L327 336.48 L328 336.99 L329 337.35 L330 337.78 L331 338.23 L332 338.69 L333 339.20 L334 339.62 L335 339.97 L336 340.26 L337 340.60 L338 340.86 L339 341.21 L340 341.44 L341 341.75 L342 342.06 L343 342.41 L344 342.71 L345 342.96 L346 343.35 L347 343.67 L348 343.89 L349 344.06 L350 344.29 L351 344.50 L352 344.70 L353 344.82 L354 345.05 L355 345.26 L356 345.53 L357 345.71 L358 345.95 L359 346.16 L360 346.42 L361 346.56 L362 346.76 L363 346.98 L364 347.23 L365 347.38 L366 347.51 L367 347.62 L368 347.77 L369 347.88 L370 348.04 L371 348.18 L372 348.27 L373 348.37 L374 348.47 L375 348.64 L376 348.81 L377 349.06 L378 349.42 L379 349.76 L380 350.08 L381 350.36 L382 350.60 L383 350.85 L384 351.06 L385 351.32 L386 351.52 L387 351.68 L388 351.81 L389 351.99 L390 352.20 L391 352.37 L392 352.51 L393 352.66 L394 352.81 L395 352.97 L396 353.09 L397 353.21 L398 353.33 L399 353.40 L400 353.46 L401 353.49 L402 353.53 L403 353.60 L404 353.66 L405 353.73 L406 353.76 L407 353.79 L408 353.81 L409 353.85 L410 353.89 L411 353.96 L412 354.02 L413 354.09 L414 354.15 L415 354.20 L416 354.27 L417 354.36 L418 354.49 L419 354.61 L420 354.72 L421 354.83 L422 354.95 L423 355.07 L424 355.18 L425 355.27 L426 355.35 L427 355.42 L428 355.47 L429 355.53 L430 355.58 L431 355.61 L432 355.66 L433 355.68 L434 355.73 L435 355.76 L436 355.79 L437 355.81 L438 355.82 L439 355.84 L440 355.89 L441 355.93 L442 355.96 L443 356.01 L444 356.05 L445 356.12 L446 356.16 L447 356.20 L448 356.21 L449 356.25 L450 356.31 L451 356.35 L452 356.40 L453 356.43 L454 356.48 L455 356.54 L456 356.59 L457 356.64 L458 356.68 L459 356.73 L460 356.76 L461 356.81 L462 356.85 L463 356.89 L464 356.93 L465 356.97 L466 357.03 L467 357.08 L468 357.12 L469 357.14 L470 357.18 L471 357.22 L472 357.26 L473 357.29 L474 357.33 L475 357.36 L476 357.39 L477 357.44 L478 357.46 L479 357.49 L480 357.50 L481 357.54 L482 357.58 L483 357.60 L484 357.62 L485 357.64 L486 357.66 L487 357.69 L488 357.72 L489 357.75 L490 357.77 L491 357.77 L492 357.79 L493 357.81 L494 357.84 L495 357.86 L496 357.88 L497 357.90 L498 357.92 L499 357.93 L500 357.95 L501 357.98 L502 358.00 L503 358.01 L504 358.02 L505 358.04 L506 358.07 L507 358.09 L508 358.11 L509 358.12 L510 358.15 L511 358.17 L512 358.19 L513 358.19 L514 358.21 L515 358.23 L516 358.24 L517 358.27 L518 358.28 L519 358.31 L520 358.32 L521 358.33 L522 358.34 L523 358.36 L524 358.38 L525 358.39 L526 358.41 L527 358.42 L528 358.43 L529 358.45 L530 358.46 L531 358.48 L532 358.50 L533 358.51" stroke="#28a0a0"/>
</g>
<g stroke="#000" stroke-width="1.6" fill="none">
<line x1="68" y1="13.9" x2="68" y2="361.25"/>
<line x1="67.2" y1="360.5" x2="533.75" y2="360.5" stroke-width="1.5"/>
<line x1="60.5" y1="360.00" x2="68" y2="360.00"/>
<line x1="60.5" y1="302.45" x2="68" y2="302.45"/>
<line x1="60.5" y1="244.90" x2="68" y2="244.90"/>
<line x1="60.5" y1="187.35" x2="68" y2="187.35"/>
<line x1="60.5" y1="129.80" x2="68" y2="129.80"/>
<line x1="60.5" y1="72.25" x2="68" y2="72.25"/>
<line x1="60.5" y1="14.70" x2="68" y2="14.70"/>
<line x1="64" y1="331.23" x2="68" y2="331.23"/>
<line x1="64" y1="273.68" x2="68" y2="273.68"/>
<line x1="64" y1="216.12" x2="68" y2="216.12"/>
<line x1="64" y1="158.57" x2="68" y2="158.57"/>
<line x1="64" y1="101.02" x2="68" y2="101.02"/>
<line x1="64" y1="43.48" x2="68" y2="43.48"/>
<line x1="68.00" y1="360" x2="68.00" y2="367.5"/>
<line x1="184.25" y1="360" x2="184.25" y2="367.5"/>
<line x1="300.50" y1="360" x2="300.50" y2="367.5"/>
<line x1="416.75" y1="360" x2="416.75" y2="367.5"/>
<line x1="533.00" y1="360" x2="533.00" y2="367.5"/>
<line x1="126.12" y1="360" x2="126.12" y2="364"/>
<line x1="242.38" y1="360" x2="242.38" y2="364"/>
<line x1="358.62" y1="360" x2="358.62" y2="364"/>
<line x1="474.88" y1="360" x2="474.88" y2="364"/>
</g>
<g font-family="Liberation Sans, sans-serif" font-size="13.6" fill="#000" stroke="#000" stroke-width="0.35">
<text x="57.3" y="364.30" text-anchor="end">0</text>
<text x="57.3" y="306.75" text-anchor="end">50</text>
<text x="57.3" y="249.20" text-anchor="end">100</text>
<text x="57.3" y="191.65" text-anchor="end">150</text>
<text x="57.3" y="134.10" text-anchor="end">200</text>
<text x="57.3" y="76.55" text-anchor="end">250</text>
<text x="57.3" y="19.00" text-anchor="end">300</text>
<text x="68.00" y="382.3" text-anchor="middle">350</text>
<text x="184.25" y="382.3" text-anchor="middle">400</text>
<text x="300.50" y="382.3" text-anchor="middle">450</text>
<text x="416.75" y="382.3" text-anchor="middle">500</text>
<text x="533.00" y="382.3" text-anchor="middle">550</text>
</g>
<g font-family="Liberation Serif, serif" font-weight="bold" fill="#000">
<text x="232.3" y="412.7" font-size="17" textLength="108.5" lengthAdjust="spacingAndGlyphs">Wavelength/nm</text>
<text transform="translate(15.7 281.5) rotate(-90)" font-size="19" textLength="169.5" lengthAdjust="spacingAndGlyphs">Relative Fluorescence</text>
<text x="449.5" y="71.7" font-size="17.6">1</text>
<text x="443.2" y="239.4" font-size="17.3">13</text>
</g>
<g stroke="#000" stroke-width="1.4" fill="#000">
<line x1="424.5" y1="32.8" x2="422.6" y2="266"/>
<path d="M420.4 265.5 L424.4 265.5 L422.5 272.6 Z" stroke="none"/>
</g>
</svg>
</body></html>
